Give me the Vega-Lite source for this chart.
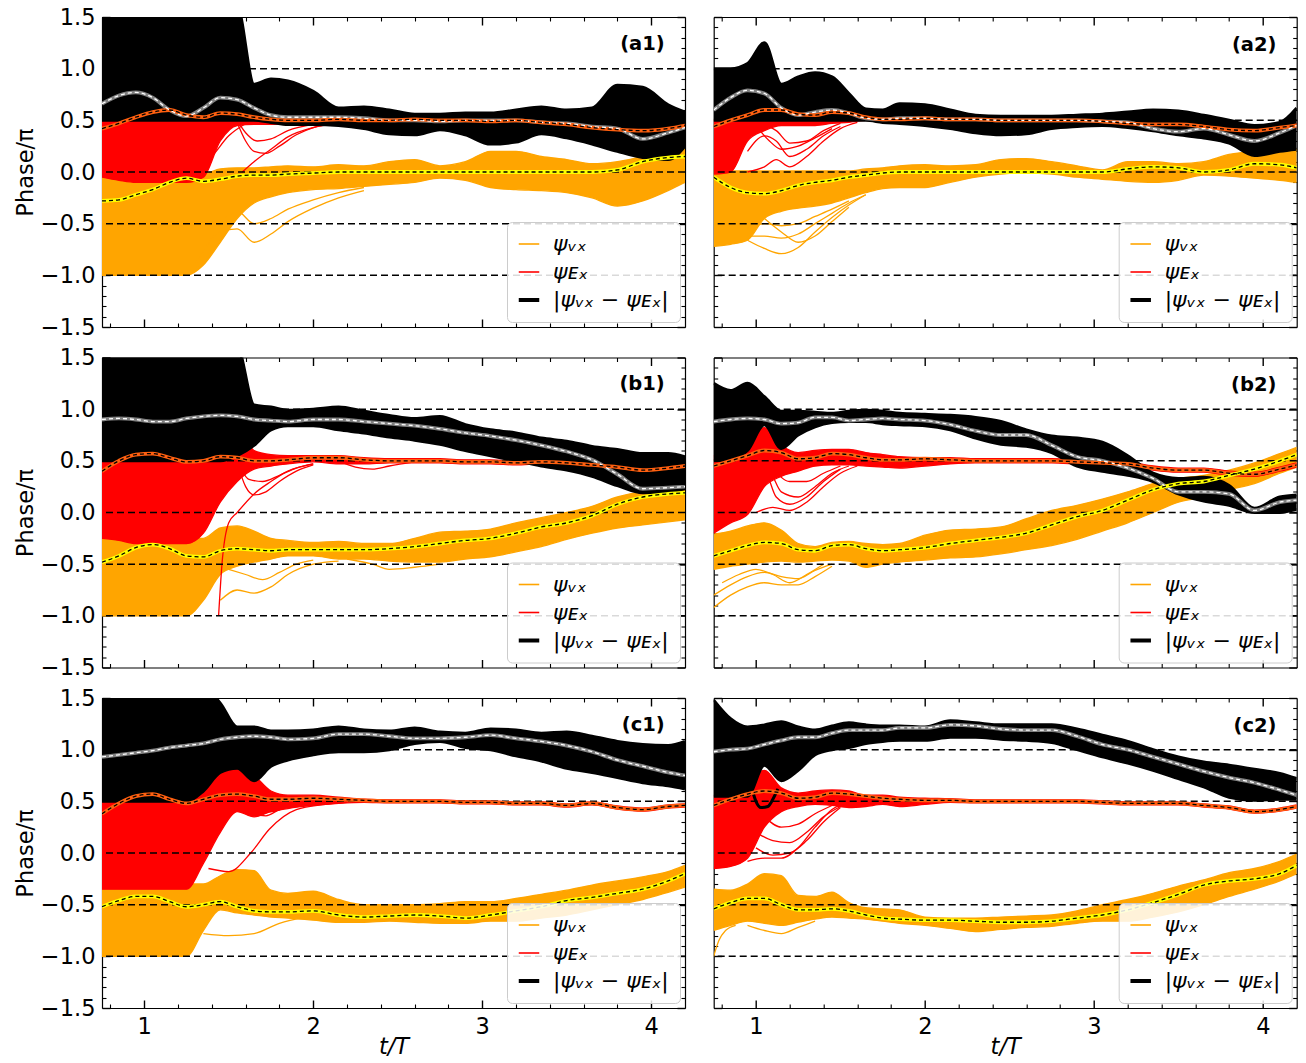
{
"$schema":"https://vega.github.io/schema/vega-lite/v6.json",
"padding":{"left":14,"top":6,"right":5,"bottom":2},
"datasets":{
"hl":[{"y":1},{"y":0.5},{"y":0},{"y":-0.5},{"y":-1}],
"bands":[
{"p":"a1","s":"d","t":0.75,"lo":0.5,"hi":1.6,"m":0.66},{"p":"a1","s":"d","t":0.85,"lo":0.5,"hi":1.6,"m":0.74},{"p":"a1","s":"d","t":0.95,"lo":0.5,"hi":1.6,"m":0.77},{"p":"a1","s":"d","t":1.05,"lo":0.5,"hi":1.6,"m":0.72},{"p":"a1","s":"d","t":1.15,"lo":0.5,"hi":1.6,"m":0.6},{"p":"a1","s":"d","t":1.25,"lo":0.5,"hi":1.6,"m":0.54},{"p":"a1","s":"d","t":1.35,"lo":0.5,"hi":1.6,"m":0.62},{"p":"a1","s":"d","t":1.45,"lo":0.5,"hi":1.6,"m":0.72},{"p":"a1","s":"d","t":1.55,"lo":0.5,"hi":1.6,"m":0.7},{"p":"a1","s":"d","t":1.65,"lo":0.5,"hi":0.85,"m":0.62},{"p":"a1","s":"d","t":1.75,"lo":0.48,"hi":0.9,"m":0.55},{"p":"a1","s":"d","t":1.85,"lo":0.46,"hi":0.88,"m":0.53},{"p":"a1","s":"d","t":2.0,"lo":0.46,"hi":0.78,"m":0.53},{"p":"a1","s":"d","t":2.15,"lo":0.45,"hi":0.62,"m":0.53},{"p":"a1","s":"d","t":2.3,"lo":0.42,"hi":0.63,"m":0.52},{"p":"a1","s":"d","t":2.45,"lo":0.37,"hi":0.6,"m":0.5},{"p":"a1","s":"d","t":2.6,"lo":0.36,"hi":0.56,"m":0.5},{"p":"a1","s":"d","t":2.75,"lo":0.41,"hi":0.56,"m":0.49},{"p":"a1","s":"d","t":2.9,"lo":0.36,"hi":0.57,"m":0.5},{"p":"a1","s":"d","t":3.05,"lo":0.27,"hi":0.57,"m":0.5},{"p":"a1","s":"d","t":3.2,"lo":0.29,"hi":0.6,"m":0.5},{"p":"a1","s":"d","t":3.35,"lo":0.37,"hi":0.63,"m":0.48},{"p":"a1","s":"d","t":3.5,"lo":0.33,"hi":0.6,"m":0.47},{"p":"a1","s":"d","t":3.65,"lo":0.27,"hi":0.62,"m":0.44},{"p":"a1","s":"d","t":3.8,"lo":0.2,"hi":0.84,"m":0.42},{"p":"a1","s":"d","t":3.95,"lo":0.14,"hi":0.82,"m":0.32},{"p":"a1","s":"d","t":4.1,"lo":0.12,"hi":0.65,"m":0.38},{"p":"a1","s":"d","t":4.2,"lo":0.25,"hi":0.58,"m":0.43},
{"p":"a1","s":"E","t":0.75,"lo":-0.05,"hi":0.75,"m":0.42},{"p":"a1","s":"E","t":0.85,"lo":-0.08,"hi":0.75,"m":0.47},{"p":"a1","s":"E","t":0.95,"lo":-0.1,"hi":0.75,"m":0.53},{"p":"a1","s":"E","t":1.05,"lo":-0.1,"hi":0.75,"m":0.58},{"p":"a1","s":"E","t":1.15,"lo":-0.1,"hi":0.75,"m":0.6},{"p":"a1","s":"E","t":1.25,"lo":-0.1,"hi":0.75,"m":0.55},{"p":"a1","s":"E","t":1.35,"lo":-0.05,"hi":0.75,"m":0.53},{"p":"a1","s":"E","t":1.45,"lo":0.3,"hi":0.75,"m":0.57},{"p":"a1","s":"E","t":1.55,"lo":0.45,"hi":0.65,"m":0.56},{"p":"a1","s":"E","t":1.65,"lo":0.46,"hi":0.58,"m":0.53},{"p":"a1","s":"E","t":1.75,"lo":0.46,"hi":0.56,"m":0.51},{"p":"a1","s":"E","t":1.85,"lo":0.47,"hi":0.55,"m":0.5},{"p":"a1","s":"E","t":2.0,"lo":0.47,"hi":0.54,"m":0.5},{"p":"a1","s":"E","t":2.15,"lo":0.47,"hi":0.53,"m":0.51},{"p":"a1","s":"E","t":2.3,"lo":0.48,"hi":0.53,"m":0.5},{"p":"a1","s":"E","t":2.45,"lo":0.48,"hi":0.525,"m":0.5},{"p":"a1","s":"E","t":2.6,"lo":0.485,"hi":0.535,"m":0.51},{"p":"a1","s":"E","t":2.75,"lo":0.475,"hi":0.525,"m":0.5},{"p":"a1","s":"E","t":2.9,"lo":0.475,"hi":0.525,"m":0.5},{"p":"a1","s":"E","t":3.05,"lo":0.465,"hi":0.515,"m":0.49},{"p":"a1","s":"E","t":3.2,"lo":0.475,"hi":0.525,"m":0.5},{"p":"a1","s":"E","t":3.35,"lo":0.455,"hi":0.505,"m":0.48},{"p":"a1","s":"E","t":3.5,"lo":0.435,"hi":0.485,"m":0.46},{"p":"a1","s":"E","t":3.65,"lo":0.405,"hi":0.455,"m":0.43},{"p":"a1","s":"E","t":3.8,"lo":0.385,"hi":0.435,"m":0.41},{"p":"a1","s":"E","t":3.95,"lo":0.375,"hi":0.425,"m":0.4},{"p":"a1","s":"E","t":4.1,"lo":0.395,"hi":0.445,"m":0.42},{"p":"a1","s":"E","t":4.2,"lo":0.425,"hi":0.475,"m":0.45},
{"p":"a1","s":"v","t":0.75,"lo":-1.0,"hi":-0.02,"m":-0.28},{"p":"a1","s":"v","t":0.85,"lo":-1.0,"hi":-0.02,"m":-0.27},{"p":"a1","s":"v","t":0.95,"lo":-1.0,"hi":-0.02,"m":-0.22},{"p":"a1","s":"v","t":1.05,"lo":-1.0,"hi":-0.02,"m":-0.17},{"p":"a1","s":"v","t":1.15,"lo":-1.0,"hi":-0.02,"m":-0.1},{"p":"a1","s":"v","t":1.25,"lo":-1.0,"hi":-0.02,"m":-0.06},{"p":"a1","s":"v","t":1.35,"lo":-0.9,"hi":-0.02,"m":-0.09},{"p":"a1","s":"v","t":1.45,"lo":-0.68,"hi":0.03,"m":-0.07},{"p":"a1","s":"v","t":1.55,"lo":-0.45,"hi":0.04,"m":-0.04},{"p":"a1","s":"v","t":1.65,"lo":-0.3,"hi":0.04,"m":-0.03},{"p":"a1","s":"v","t":1.75,"lo":-0.24,"hi":0.05,"m":-0.03},{"p":"a1","s":"v","t":1.85,"lo":-0.2,"hi":0.06,"m":-0.02},{"p":"a1","s":"v","t":2.0,"lo":-0.17,"hi":0.05,"m":-0.01},{"p":"a1","s":"v","t":2.15,"lo":-0.16,"hi":0.07,"m":0.0},{"p":"a1","s":"v","t":2.3,"lo":-0.14,"hi":0.06,"m":0.0},{"p":"a1","s":"v","t":2.45,"lo":-0.12,"hi":0.1,"m":0.0},{"p":"a1","s":"v","t":2.6,"lo":-0.1,"hi":0.12,"m":0.0},{"p":"a1","s":"v","t":2.75,"lo":-0.06,"hi":0.06,"m":0.0},{"p":"a1","s":"v","t":2.9,"lo":-0.08,"hi":0.1,"m":0.0},{"p":"a1","s":"v","t":3.05,"lo":-0.15,"hi":0.2,"m":0.0},{"p":"a1","s":"v","t":3.2,"lo":-0.17,"hi":0.2,"m":0.0},{"p":"a1","s":"v","t":3.35,"lo":-0.18,"hi":0.15,"m":0.0},{"p":"a1","s":"v","t":3.5,"lo":-0.2,"hi":0.12,"m":0.0},{"p":"a1","s":"v","t":3.65,"lo":-0.25,"hi":0.08,"m":0.0},{"p":"a1","s":"v","t":3.8,"lo":-0.33,"hi":0.1,"m":0.02},{"p":"a1","s":"v","t":3.95,"lo":-0.28,"hi":0.15,"m":0.1},{"p":"a1","s":"v","t":4.1,"lo":-0.18,"hi":0.2,"m":0.14},{"p":"a1","s":"v","t":4.2,"lo":-0.1,"hi":0.3,"m":0.15},
{"p":"a2","s":"d","t":0.75,"lo":0.5,"hi":1.0,"m":0.6},{"p":"a2","s":"d","t":0.85,"lo":0.5,"hi":1.0,"m":0.72},{"p":"a2","s":"d","t":0.95,"lo":0.5,"hi":1.05,"m":0.79},{"p":"a2","s":"d","t":1.05,"lo":0.5,"hi":1.25,"m":0.76},{"p":"a2","s":"d","t":1.15,"lo":0.5,"hi":0.85,"m":0.62},{"p":"a2","s":"d","t":1.25,"lo":0.5,"hi":0.92,"m":0.55},{"p":"a2","s":"d","t":1.35,"lo":0.5,"hi":0.96,"m":0.58},{"p":"a2","s":"d","t":1.45,"lo":0.5,"hi":0.92,"m":0.6},{"p":"a2","s":"d","t":1.55,"lo":0.5,"hi":0.76,"m":0.57},{"p":"a2","s":"d","t":1.65,"lo":0.5,"hi":0.61,"m":0.52},{"p":"a2","s":"d","t":1.75,"lo":0.48,"hi":0.6,"m":0.51},{"p":"a2","s":"d","t":1.85,"lo":0.47,"hi":0.66,"m":0.52},{"p":"a2","s":"d","t":2.0,"lo":0.45,"hi":0.65,"m":0.52},{"p":"a2","s":"d","t":2.15,"lo":0.42,"hi":0.6,"m":0.51},{"p":"a2","s":"d","t":2.3,"lo":0.38,"hi":0.55,"m":0.51},{"p":"a2","s":"d","t":2.45,"lo":0.36,"hi":0.54,"m":0.5},{"p":"a2","s":"d","t":2.6,"lo":0.37,"hi":0.54,"m":0.5},{"p":"a2","s":"d","t":2.75,"lo":0.42,"hi":0.54,"m":0.5},{"p":"a2","s":"d","t":2.9,"lo":0.44,"hi":0.55,"m":0.5},{"p":"a2","s":"d","t":3.05,"lo":0.45,"hi":0.56,"m":0.49},{"p":"a2","s":"d","t":3.2,"lo":0.43,"hi":0.58,"m":0.48},{"p":"a2","s":"d","t":3.35,"lo":0.4,"hi":0.6,"m":0.42},{"p":"a2","s":"d","t":3.5,"lo":0.36,"hi":0.59,"m":0.39},{"p":"a2","s":"d","t":3.65,"lo":0.33,"hi":0.55,"m":0.42},{"p":"a2","s":"d","t":3.8,"lo":0.28,"hi":0.5,"m":0.36},{"p":"a2","s":"d","t":3.95,"lo":0.16,"hi":0.45,"m":0.3},{"p":"a2","s":"d","t":4.1,"lo":0.2,"hi":0.48,"m":0.38},{"p":"a2","s":"d","t":4.2,"lo":0.22,"hi":0.62,"m":0.45},
{"p":"a2","s":"E","t":0.75,"lo":-0.02,"hi":0.5,"m":0.44},{"p":"a2","s":"E","t":0.85,"lo":0.0,"hi":0.55,"m":0.5},{"p":"a2","s":"E","t":0.95,"lo":0.3,"hi":0.62,"m":0.55},{"p":"a2","s":"E","t":1.05,"lo":0.4,"hi":0.68,"m":0.6},{"p":"a2","s":"E","t":1.15,"lo":0.45,"hi":0.7,"m":0.6},{"p":"a2","s":"E","t":1.25,"lo":0.45,"hi":0.63,"m":0.56},{"p":"a2","s":"E","t":1.35,"lo":0.45,"hi":0.62,"m":0.55},{"p":"a2","s":"E","t":1.45,"lo":0.47,"hi":0.6,"m":0.58},{"p":"a2","s":"E","t":1.55,"lo":0.48,"hi":0.58,"m":0.57},{"p":"a2","s":"E","t":1.65,"lo":0.5,"hi":0.55,"m":0.53},{"p":"a2","s":"E","t":1.75,"lo":0.49,"hi":0.53,"m":0.51},{"p":"a2","s":"E","t":1.85,"lo":0.49,"hi":0.53,"m":0.51},{"p":"a2","s":"E","t":2.0,"lo":0.5,"hi":0.535,"m":0.52},{"p":"a2","s":"E","t":2.15,"lo":0.49,"hi":0.53,"m":0.51},{"p":"a2","s":"E","t":2.3,"lo":0.49,"hi":0.53,"m":0.51},{"p":"a2","s":"E","t":2.45,"lo":0.48,"hi":0.52,"m":0.5},{"p":"a2","s":"E","t":2.6,"lo":0.48,"hi":0.52,"m":0.5},{"p":"a2","s":"E","t":2.75,"lo":0.48,"hi":0.52,"m":0.5},{"p":"a2","s":"E","t":2.9,"lo":0.48,"hi":0.52,"m":0.5},{"p":"a2","s":"E","t":3.05,"lo":0.47,"hi":0.51,"m":0.49},{"p":"a2","s":"E","t":3.2,"lo":0.45,"hi":0.49,"m":0.47},{"p":"a2","s":"E","t":3.35,"lo":0.44,"hi":0.48,"m":0.46},{"p":"a2","s":"E","t":3.5,"lo":0.44,"hi":0.48,"m":0.46},{"p":"a2","s":"E","t":3.65,"lo":0.42,"hi":0.46,"m":0.44},{"p":"a2","s":"E","t":3.8,"lo":0.39,"hi":0.43,"m":0.41},{"p":"a2","s":"E","t":3.95,"lo":0.38,"hi":0.42,"m":0.4},{"p":"a2","s":"E","t":4.1,"lo":0.41,"hi":0.45,"m":0.43},{"p":"a2","s":"E","t":4.2,"lo":0.43,"hi":0.47,"m":0.45},
{"p":"a2","s":"v","t":0.75,"lo":-0.72,"hi":0.01,"m":-0.05},{"p":"a2","s":"v","t":0.85,"lo":-0.7,"hi":0.01,"m":-0.15},{"p":"a2","s":"v","t":0.95,"lo":-0.66,"hi":0.01,"m":-0.2},{"p":"a2","s":"v","t":1.05,"lo":-0.45,"hi":0.01,"m":-0.21},{"p":"a2","s":"v","t":1.15,"lo":-0.38,"hi":0.01,"m":-0.18},{"p":"a2","s":"v","t":1.25,"lo":-0.35,"hi":0.01,"m":-0.13},{"p":"a2","s":"v","t":1.35,"lo":-0.33,"hi":0.01,"m":-0.1},{"p":"a2","s":"v","t":1.45,"lo":-0.3,"hi":0.01,"m":-0.08},{"p":"a2","s":"v","t":1.55,"lo":-0.25,"hi":0.01,"m":-0.05},{"p":"a2","s":"v","t":1.65,"lo":-0.2,"hi":0.03,"m":-0.03},{"p":"a2","s":"v","t":1.75,"lo":-0.16,"hi":0.04,"m":-0.01},{"p":"a2","s":"v","t":1.85,"lo":-0.15,"hi":0.06,"m":0.0},{"p":"a2","s":"v","t":2.0,"lo":-0.15,"hi":0.07,"m":0.0},{"p":"a2","s":"v","t":2.15,"lo":-0.1,"hi":0.06,"m":0.0},{"p":"a2","s":"v","t":2.3,"lo":-0.05,"hi":0.07,"m":0.0},{"p":"a2","s":"v","t":2.45,"lo":-0.02,"hi":0.12,"m":0.0},{"p":"a2","s":"v","t":2.6,"lo":-0.01,"hi":0.13,"m":0.0},{"p":"a2","s":"v","t":2.75,"lo":-0.02,"hi":0.1,"m":0.0},{"p":"a2","s":"v","t":2.9,"lo":-0.05,"hi":0.06,"m":0.0},{"p":"a2","s":"v","t":3.05,"lo":-0.07,"hi":0.02,"m":0.0},{"p":"a2","s":"v","t":3.2,"lo":-0.09,"hi":0.1,"m":0.03},{"p":"a2","s":"v","t":3.35,"lo":-0.1,"hi":0.1,"m":0.05},{"p":"a2","s":"v","t":3.5,"lo":-0.08,"hi":0.08,"m":0.04},{"p":"a2","s":"v","t":3.65,"lo":-0.03,"hi":0.1,"m":0.0},{"p":"a2","s":"v","t":3.8,"lo":-0.04,"hi":0.17,"m":0.02},{"p":"a2","s":"v","t":3.95,"lo":-0.06,"hi":0.2,"m":0.08},{"p":"a2","s":"v","t":4.1,"lo":-0.08,"hi":0.21,"m":0.07},{"p":"a2","s":"v","t":4.2,"lo":-0.1,"hi":0.22,"m":0.04},
{"p":"b1","s":"d","t":0.75,"lo":0.5,"hi":1.6,"m":0.9},{"p":"b1","s":"d","t":0.85,"lo":0.5,"hi":1.6,"m":0.91},{"p":"b1","s":"d","t":0.95,"lo":0.5,"hi":1.6,"m":0.9},{"p":"b1","s":"d","t":1.05,"lo":0.5,"hi":1.6,"m":0.88},{"p":"b1","s":"d","t":1.15,"lo":0.5,"hi":1.6,"m":0.88},{"p":"b1","s":"d","t":1.25,"lo":0.5,"hi":1.6,"m":0.91},{"p":"b1","s":"d","t":1.35,"lo":0.5,"hi":1.6,"m":0.93},{"p":"b1","s":"d","t":1.45,"lo":0.5,"hi":1.6,"m":0.94},{"p":"b1","s":"d","t":1.55,"lo":0.55,"hi":1.6,"m":0.93},{"p":"b1","s":"d","t":1.65,"lo":0.65,"hi":1.04,"m":0.9},{"p":"b1","s":"d","t":1.75,"lo":0.8,"hi":1.02,"m":0.89},{"p":"b1","s":"d","t":1.85,"lo":0.84,"hi":0.99,"m":0.88},{"p":"b1","s":"d","t":2.0,"lo":0.84,"hi":1.0,"m":0.9},{"p":"b1","s":"d","t":2.15,"lo":0.8,"hi":1.02,"m":0.9},{"p":"b1","s":"d","t":2.3,"lo":0.77,"hi":0.98,"m":0.88},{"p":"b1","s":"d","t":2.45,"lo":0.73,"hi":0.94,"m":0.86},{"p":"b1","s":"d","t":2.6,"lo":0.7,"hi":0.91,"m":0.84},{"p":"b1","s":"d","t":2.75,"lo":0.66,"hi":0.93,"m":0.81},{"p":"b1","s":"d","t":2.9,"lo":0.6,"hi":0.85,"m":0.77},{"p":"b1","s":"d","t":3.05,"lo":0.55,"hi":0.8,"m":0.74},{"p":"b1","s":"d","t":3.2,"lo":0.5,"hi":0.77,"m":0.7},{"p":"b1","s":"d","t":3.35,"lo":0.45,"hi":0.72,"m":0.65},{"p":"b1","s":"d","t":3.5,"lo":0.41,"hi":0.69,"m":0.59},{"p":"b1","s":"d","t":3.65,"lo":0.35,"hi":0.64,"m":0.51},{"p":"b1","s":"d","t":3.8,"lo":0.26,"hi":0.61,"m":0.37},{"p":"b1","s":"d","t":3.95,"lo":0.19,"hi":0.57,"m":0.23},{"p":"b1","s":"d","t":4.1,"lo":0.2,"hi":0.57,"m":0.24},{"p":"b1","s":"d","t":4.2,"lo":0.23,"hi":0.54,"m":0.25},
{"p":"b1","s":"E","t":0.75,"lo":-0.25,"hi":0.8,"m":0.4},{"p":"b1","s":"E","t":0.85,"lo":-0.27,"hi":0.8,"m":0.5},{"p":"b1","s":"E","t":0.95,"lo":-0.3,"hi":0.8,"m":0.56},{"p":"b1","s":"E","t":1.05,"lo":-0.3,"hi":0.8,"m":0.57},{"p":"b1","s":"E","t":1.15,"lo":-0.3,"hi":0.8,"m":0.53},{"p":"b1","s":"E","t":1.25,"lo":-0.3,"hi":0.8,"m":0.49},{"p":"b1","s":"E","t":1.35,"lo":-0.2,"hi":0.83,"m":0.5},{"p":"b1","s":"E","t":1.45,"lo":0.1,"hi":0.83,"m":0.54},{"p":"b1","s":"E","t":1.55,"lo":0.3,"hi":0.83,"m":0.53},{"p":"b1","s":"E","t":1.65,"lo":0.42,"hi":0.6,"m":0.5},{"p":"b1","s":"E","t":1.75,"lo":0.45,"hi":0.56,"m":0.5},{"p":"b1","s":"E","t":1.85,"lo":0.47,"hi":0.55,"m":0.51},{"p":"b1","s":"E","t":2.0,"lo":0.49,"hi":0.55,"m":0.53},{"p":"b1","s":"E","t":2.15,"lo":0.47,"hi":0.55,"m":0.53},{"p":"b1","s":"E","t":2.3,"lo":0.47,"hi":0.53,"m":0.51},{"p":"b1","s":"E","t":2.45,"lo":0.48,"hi":0.52,"m":0.5},{"p":"b1","s":"E","t":2.6,"lo":0.48,"hi":0.52,"m":0.5},{"p":"b1","s":"E","t":2.75,"lo":0.48,"hi":0.52,"m":0.5},{"p":"b1","s":"E","t":2.9,"lo":0.47,"hi":0.51,"m":0.49},{"p":"b1","s":"E","t":3.05,"lo":0.47,"hi":0.51,"m":0.49},{"p":"b1","s":"E","t":3.2,"lo":0.46,"hi":0.5,"m":0.48},{"p":"b1","s":"E","t":3.35,"lo":0.47,"hi":0.51,"m":0.49},{"p":"b1","s":"E","t":3.5,"lo":0.46,"hi":0.5,"m":0.48},{"p":"b1","s":"E","t":3.65,"lo":0.44,"hi":0.48,"m":0.46},{"p":"b1","s":"E","t":3.8,"lo":0.42,"hi":0.46,"m":0.44},{"p":"b1","s":"E","t":3.95,"lo":0.39,"hi":0.43,"m":0.41},{"p":"b1","s":"E","t":4.1,"lo":0.41,"hi":0.45,"m":0.43},{"p":"b1","s":"E","t":4.2,"lo":0.43,"hi":0.47,"m":0.45},
{"p":"b1","s":"v","t":0.75,"lo":-1.0,"hi":-0.25,"m":-0.48},{"p":"b1","s":"v","t":0.85,"lo":-1.0,"hi":-0.25,"m":-0.42},{"p":"b1","s":"v","t":0.95,"lo":-1.0,"hi":-0.25,"m":-0.34},{"p":"b1","s":"v","t":1.05,"lo":-1.0,"hi":-0.25,"m":-0.31},{"p":"b1","s":"v","t":1.15,"lo":-1.0,"hi":-0.25,"m":-0.35},{"p":"b1","s":"v","t":1.25,"lo":-1.0,"hi":-0.25,"m":-0.42},{"p":"b1","s":"v","t":1.35,"lo":-0.85,"hi":-0.25,"m":-0.43},{"p":"b1","s":"v","t":1.45,"lo":-0.6,"hi":-0.15,"m":-0.37},{"p":"b1","s":"v","t":1.55,"lo":-0.52,"hi":-0.13,"m":-0.35},{"p":"b1","s":"v","t":1.65,"lo":-0.48,"hi":-0.18,"m":-0.36},{"p":"b1","s":"v","t":1.75,"lo":-0.45,"hi":-0.25,"m":-0.37},{"p":"b1","s":"v","t":1.85,"lo":-0.42,"hi":-0.27,"m":-0.36},{"p":"b1","s":"v","t":2.0,"lo":-0.42,"hi":-0.29,"m":-0.36},{"p":"b1","s":"v","t":2.15,"lo":-0.45,"hi":-0.28,"m":-0.36},{"p":"b1","s":"v","t":2.3,"lo":-0.45,"hi":-0.3,"m":-0.36},{"p":"b1","s":"v","t":2.45,"lo":-0.47,"hi":-0.3,"m":-0.35},{"p":"b1","s":"v","t":2.6,"lo":-0.48,"hi":-0.25,"m":-0.33},{"p":"b1","s":"v","t":2.75,"lo":-0.48,"hi":-0.19,"m":-0.3},{"p":"b1","s":"v","t":2.9,"lo":-0.45,"hi":-0.18,"m":-0.27},{"p":"b1","s":"v","t":3.05,"lo":-0.43,"hi":-0.16,"m":-0.25},{"p":"b1","s":"v","t":3.2,"lo":-0.38,"hi":-0.1,"m":-0.2},{"p":"b1","s":"v","t":3.35,"lo":-0.33,"hi":-0.05,"m":-0.14},{"p":"b1","s":"v","t":3.5,"lo":-0.26,"hi":0.0,"m":-0.1},{"p":"b1","s":"v","t":3.65,"lo":-0.2,"hi":0.06,"m":-0.03},{"p":"b1","s":"v","t":3.8,"lo":-0.15,"hi":0.15,"m":0.08},{"p":"b1","s":"v","t":3.95,"lo":-0.12,"hi":0.2,"m":0.15},{"p":"b1","s":"v","t":4.1,"lo":-0.09,"hi":0.21,"m":0.18},{"p":"b1","s":"v","t":4.2,"lo":-0.07,"hi":0.22,"m":0.19},
{"p":"b2","s":"d","t":0.75,"lo":0.5,"hi":1.25,"m":0.88},{"p":"b2","s":"d","t":0.85,"lo":0.52,"hi":1.18,"m":0.9},{"p":"b2","s":"d","t":0.95,"lo":0.6,"hi":1.25,"m":0.91},{"p":"b2","s":"d","t":1.05,"lo":0.85,"hi":1.12,"m":0.9},{"p":"b2","s":"d","t":1.15,"lo":0.62,"hi":0.98,"m":0.86},{"p":"b2","s":"d","t":1.25,"lo":0.75,"hi":0.98,"m":0.87},{"p":"b2","s":"d","t":1.35,"lo":0.83,"hi":0.97,"m":0.92},{"p":"b2","s":"d","t":1.45,"lo":0.87,"hi":0.96,"m":0.92},{"p":"b2","s":"d","t":1.55,"lo":0.88,"hi":0.98,"m":0.89},{"p":"b2","s":"d","t":1.65,"lo":0.88,"hi":0.99,"m":0.9},{"p":"b2","s":"d","t":1.75,"lo":0.86,"hi":0.98,"m":0.91},{"p":"b2","s":"d","t":1.85,"lo":0.85,"hi":0.96,"m":0.9},{"p":"b2","s":"d","t":2.0,"lo":0.84,"hi":0.95,"m":0.89},{"p":"b2","s":"d","t":2.15,"lo":0.8,"hi":0.94,"m":0.85},{"p":"b2","s":"d","t":2.3,"lo":0.72,"hi":0.92,"m":0.79},{"p":"b2","s":"d","t":2.45,"lo":0.66,"hi":0.88,"m":0.75},{"p":"b2","s":"d","t":2.6,"lo":0.64,"hi":0.8,"m":0.75},{"p":"b2","s":"d","t":2.75,"lo":0.58,"hi":0.74,"m":0.65},{"p":"b2","s":"d","t":2.9,"lo":0.45,"hi":0.72,"m":0.54},{"p":"b2","s":"d","t":3.05,"lo":0.4,"hi":0.68,"m":0.5},{"p":"b2","s":"d","t":3.2,"lo":0.36,"hi":0.55,"m":0.43},{"p":"b2","s":"d","t":3.35,"lo":0.3,"hi":0.38,"m":0.33},{"p":"b2","s":"d","t":3.5,"lo":0.18,"hi":0.33,"m":0.2},{"p":"b2","s":"d","t":3.65,"lo":0.11,"hi":0.34,"m":0.2},{"p":"b2","s":"d","t":3.8,"lo":0.07,"hi":0.26,"m":0.18},{"p":"b2","s":"d","t":3.95,"lo":0.0,"hi":0.04,"m":0.02},{"p":"b2","s":"d","t":4.1,"lo":0.0,"hi":0.15,"m":0.1},{"p":"b2","s":"d","t":4.2,"lo":0.03,"hi":0.17,"m":0.12},
{"p":"b2","s":"E","t":0.75,"lo":-0.2,"hi":0.55,"m":0.45},{"p":"b2","s":"E","t":0.85,"lo":-0.1,"hi":0.6,"m":0.5},{"p":"b2","s":"E","t":0.95,"lo":-0.02,"hi":0.75,"m":0.55},{"p":"b2","s":"E","t":1.05,"lo":0.25,"hi":0.82,"m":0.6},{"p":"b2","s":"E","t":1.15,"lo":0.35,"hi":0.65,"m":0.58},{"p":"b2","s":"E","t":1.25,"lo":0.4,"hi":0.58,"m":0.52},{"p":"b2","s":"E","t":1.35,"lo":0.45,"hi":0.6,"m":0.53},{"p":"b2","s":"E","t":1.45,"lo":0.46,"hi":0.61,"m":0.57},{"p":"b2","s":"E","t":1.55,"lo":0.46,"hi":0.61,"m":0.56},{"p":"b2","s":"E","t":1.65,"lo":0.45,"hi":0.58,"m":0.53},{"p":"b2","s":"E","t":1.75,"lo":0.44,"hi":0.56,"m":0.51},{"p":"b2","s":"E","t":1.85,"lo":0.43,"hi":0.54,"m":0.51},{"p":"b2","s":"E","t":2.0,"lo":0.45,"hi":0.53,"m":0.52},{"p":"b2","s":"E","t":2.15,"lo":0.47,"hi":0.53,"m":0.51},{"p":"b2","s":"E","t":2.3,"lo":0.48,"hi":0.52,"m":0.5},{"p":"b2","s":"E","t":2.45,"lo":0.48,"hi":0.52,"m":0.5},{"p":"b2","s":"E","t":2.6,"lo":0.48,"hi":0.52,"m":0.5},{"p":"b2","s":"E","t":2.75,"lo":0.48,"hi":0.52,"m":0.5},{"p":"b2","s":"E","t":2.9,"lo":0.47,"hi":0.51,"m":0.49},{"p":"b2","s":"E","t":3.05,"lo":0.46,"hi":0.5,"m":0.48},{"p":"b2","s":"E","t":3.2,"lo":0.45,"hi":0.49,"m":0.47},{"p":"b2","s":"E","t":3.35,"lo":0.41,"hi":0.45,"m":0.43},{"p":"b2","s":"E","t":3.5,"lo":0.39,"hi":0.43,"m":0.41},{"p":"b2","s":"E","t":3.65,"lo":0.39,"hi":0.43,"m":0.41},{"p":"b2","s":"E","t":3.8,"lo":0.36,"hi":0.4,"m":0.38},{"p":"b2","s":"E","t":3.95,"lo":0.35,"hi":0.39,"m":0.37},{"p":"b2","s":"E","t":4.1,"lo":0.4,"hi":0.44,"m":0.42},{"p":"b2","s":"E","t":4.2,"lo":0.44,"hi":0.48,"m":0.46},
{"p":"b2","s":"v","t":0.75,"lo":-0.55,"hi":-0.21,"m":-0.42},{"p":"b2","s":"v","t":0.85,"lo":-0.52,"hi":-0.18,"m":-0.37},{"p":"b2","s":"v","t":0.95,"lo":-0.5,"hi":-0.13,"m":-0.32},{"p":"b2","s":"v","t":1.05,"lo":-0.48,"hi":-0.1,"m":-0.29},{"p":"b2","s":"v","t":1.15,"lo":-0.47,"hi":-0.17,"m":-0.3},{"p":"b2","s":"v","t":1.25,"lo":-0.48,"hi":-0.3,"m":-0.36},{"p":"b2","s":"v","t":1.35,"lo":-0.47,"hi":-0.33,"m":-0.37},{"p":"b2","s":"v","t":1.45,"lo":-0.46,"hi":-0.29,"m":-0.32},{"p":"b2","s":"v","t":1.55,"lo":-0.47,"hi":-0.28,"m":-0.31},{"p":"b2","s":"v","t":1.65,"lo":-0.53,"hi":-0.3,"m":-0.35},{"p":"b2","s":"v","t":1.75,"lo":-0.5,"hi":-0.31,"m":-0.37},{"p":"b2","s":"v","t":1.85,"lo":-0.48,"hi":-0.3,"m":-0.36},{"p":"b2","s":"v","t":2.0,"lo":-0.46,"hi":-0.22,"m":-0.34},{"p":"b2","s":"v","t":2.15,"lo":-0.44,"hi":-0.17,"m":-0.3},{"p":"b2","s":"v","t":2.3,"lo":-0.43,"hi":-0.16,"m":-0.27},{"p":"b2","s":"v","t":2.45,"lo":-0.4,"hi":-0.14,"m":-0.24},{"p":"b2","s":"v","t":2.6,"lo":-0.36,"hi":-0.06,"m":-0.2},{"p":"b2","s":"v","t":2.75,"lo":-0.32,"hi":0.02,"m":-0.12},{"p":"b2","s":"v","t":2.9,"lo":-0.26,"hi":0.07,"m":-0.04},{"p":"b2","s":"v","t":3.05,"lo":-0.18,"hi":0.13,"m":0.02},{"p":"b2","s":"v","t":3.2,"lo":-0.1,"hi":0.2,"m":0.12},{"p":"b2","s":"v","t":3.35,"lo":0.0,"hi":0.28,"m":0.22},{"p":"b2","s":"v","t":3.5,"lo":0.1,"hi":0.33,"m":0.28},{"p":"b2","s":"v","t":3.65,"lo":0.15,"hi":0.36,"m":0.3},{"p":"b2","s":"v","t":3.8,"lo":0.22,"hi":0.41,"m":0.36},{"p":"b2","s":"v","t":3.95,"lo":0.28,"hi":0.48,"m":0.42},{"p":"b2","s":"v","t":4.1,"lo":0.38,"hi":0.57,"m":0.5},{"p":"b2","s":"v","t":4.2,"lo":0.44,"hi":0.63,"m":0.56},
{"p":"c1","s":"d","t":0.75,"lo":0.5,"hi":1.6,"m":0.93},{"p":"c1","s":"d","t":0.85,"lo":0.5,"hi":1.6,"m":0.95},{"p":"c1","s":"d","t":0.95,"lo":0.5,"hi":1.6,"m":0.97},{"p":"c1","s":"d","t":1.05,"lo":0.5,"hi":1.6,"m":0.99},{"p":"c1","s":"d","t":1.15,"lo":0.5,"hi":1.6,"m":1.02},{"p":"c1","s":"d","t":1.25,"lo":0.5,"hi":1.6,"m":1.04},{"p":"c1","s":"d","t":1.35,"lo":0.6,"hi":1.6,"m":1.06},{"p":"c1","s":"d","t":1.45,"lo":0.78,"hi":1.45,"m":1.1},{"p":"c1","s":"d","t":1.55,"lo":0.82,"hi":1.22,"m":1.12},{"p":"c1","s":"d","t":1.65,"lo":0.7,"hi":1.22,"m":1.13},{"p":"c1","s":"d","t":1.75,"lo":0.84,"hi":1.18,"m":1.12},{"p":"c1","s":"d","t":1.85,"lo":0.9,"hi":1.18,"m":1.1},{"p":"c1","s":"d","t":2.0,"lo":0.95,"hi":1.19,"m":1.11},{"p":"c1","s":"d","t":2.15,"lo":0.98,"hi":1.22,"m":1.15},{"p":"c1","s":"d","t":2.3,"lo":0.98,"hi":1.19,"m":1.15},{"p":"c1","s":"d","t":2.45,"lo":1.0,"hi":1.18,"m":1.13},{"p":"c1","s":"d","t":2.6,"lo":1.06,"hi":1.21,"m":1.11},{"p":"c1","s":"d","t":2.75,"lo":1.08,"hi":1.17,"m":1.11},{"p":"c1","s":"d","t":2.9,"lo":1.02,"hi":1.16,"m":1.12},{"p":"c1","s":"d","t":3.05,"lo":1.0,"hi":1.2,"m":1.14},{"p":"c1","s":"d","t":3.2,"lo":0.94,"hi":1.19,"m":1.11},{"p":"c1","s":"d","t":3.35,"lo":0.89,"hi":1.16,"m":1.08},{"p":"c1","s":"d","t":3.5,"lo":0.82,"hi":1.17,"m":1.04},{"p":"c1","s":"d","t":3.65,"lo":0.78,"hi":1.13,"m":0.98},{"p":"c1","s":"d","t":3.8,"lo":0.73,"hi":1.08,"m":0.9},{"p":"c1","s":"d","t":3.95,"lo":0.68,"hi":1.05,"m":0.84},{"p":"c1","s":"d","t":4.1,"lo":0.65,"hi":1.04,"m":0.78},{"p":"c1","s":"d","t":4.2,"lo":0.62,"hi":1.08,"m":0.75},
{"p":"c1","s":"E","t":0.75,"lo":-0.35,"hi":0.5,"m":0.38},{"p":"c1","s":"E","t":0.85,"lo":-0.35,"hi":0.62,"m":0.48},{"p":"c1","s":"E","t":0.95,"lo":-0.35,"hi":0.72,"m":0.55},{"p":"c1","s":"E","t":1.05,"lo":-0.35,"hi":0.78,"m":0.57},{"p":"c1","s":"E","t":1.15,"lo":-0.35,"hi":0.75,"m":0.52},{"p":"c1","s":"E","t":1.25,"lo":-0.35,"hi":0.72,"m":0.48},{"p":"c1","s":"E","t":1.35,"lo":-0.1,"hi":0.78,"m":0.52},{"p":"c1","s":"E","t":1.45,"lo":0.2,"hi":0.84,"m":0.56},{"p":"c1","s":"E","t":1.55,"lo":0.4,"hi":0.84,"m":0.57},{"p":"c1","s":"E","t":1.65,"lo":0.35,"hi":0.75,"m":0.55},{"p":"c1","s":"E","t":1.75,"lo":0.4,"hi":0.6,"m":0.52},{"p":"c1","s":"E","t":1.85,"lo":0.43,"hi":0.56,"m":0.52},{"p":"c1","s":"E","t":2.0,"lo":0.46,"hi":0.56,"m":0.53},{"p":"c1","s":"E","t":2.15,"lo":0.48,"hi":0.54,"m":0.52},{"p":"c1","s":"E","t":2.3,"lo":0.49,"hi":0.52,"m":0.51},{"p":"c1","s":"E","t":2.45,"lo":0.485,"hi":0.515,"m":0.5},{"p":"c1","s":"E","t":2.6,"lo":0.485,"hi":0.515,"m":0.5},{"p":"c1","s":"E","t":2.75,"lo":0.485,"hi":0.515,"m":0.5},{"p":"c1","s":"E","t":2.9,"lo":0.475,"hi":0.505,"m":0.49},{"p":"c1","s":"E","t":3.05,"lo":0.475,"hi":0.505,"m":0.49},{"p":"c1","s":"E","t":3.2,"lo":0.465,"hi":0.495,"m":0.48},{"p":"c1","s":"E","t":3.35,"lo":0.465,"hi":0.495,"m":0.48},{"p":"c1","s":"E","t":3.5,"lo":0.445,"hi":0.475,"m":0.46},{"p":"c1","s":"E","t":3.65,"lo":0.465,"hi":0.495,"m":0.48},{"p":"c1","s":"E","t":3.8,"lo":0.425,"hi":0.455,"m":0.44},{"p":"c1","s":"E","t":3.95,"lo":0.405,"hi":0.435,"m":0.42},{"p":"c1","s":"E","t":4.1,"lo":0.435,"hi":0.465,"m":0.45},{"p":"c1","s":"E","t":4.2,"lo":0.445,"hi":0.475,"m":0.46},
{"p":"c1","s":"v","t":0.75,"lo":-1.0,"hi":-0.3,"m":-0.52},{"p":"c1","s":"v","t":0.85,"lo":-1.0,"hi":-0.3,"m":-0.46},{"p":"c1","s":"v","t":0.95,"lo":-1.0,"hi":-0.3,"m":-0.42},{"p":"c1","s":"v","t":1.05,"lo":-1.0,"hi":-0.3,"m":-0.42},{"p":"c1","s":"v","t":1.15,"lo":-1.0,"hi":-0.3,"m":-0.47},{"p":"c1","s":"v","t":1.25,"lo":-1.0,"hi":-0.3,"m":-0.52},{"p":"c1","s":"v","t":1.35,"lo":-0.75,"hi":-0.3,"m":-0.5},{"p":"c1","s":"v","t":1.45,"lo":-0.55,"hi":-0.22,"m":-0.47},{"p":"c1","s":"v","t":1.55,"lo":-0.58,"hi":-0.16,"m":-0.52},{"p":"c1","s":"v","t":1.65,"lo":-0.6,"hi":-0.17,"m":-0.56},{"p":"c1","s":"v","t":1.75,"lo":-0.62,"hi":-0.36,"m":-0.57},{"p":"c1","s":"v","t":1.85,"lo":-0.63,"hi":-0.39,"m":-0.57},{"p":"c1","s":"v","t":2.0,"lo":-0.65,"hi":-0.37,"m":-0.56},{"p":"c1","s":"v","t":2.15,"lo":-0.67,"hi":-0.45,"m":-0.6},{"p":"c1","s":"v","t":2.3,"lo":-0.67,"hi":-0.5,"m":-0.62},{"p":"c1","s":"v","t":2.45,"lo":-0.66,"hi":-0.5,"m":-0.61},{"p":"c1","s":"v","t":2.6,"lo":-0.67,"hi":-0.5,"m":-0.6},{"p":"c1","s":"v","t":2.75,"lo":-0.68,"hi":-0.49,"m":-0.61},{"p":"c1","s":"v","t":2.9,"lo":-0.68,"hi":-0.47,"m":-0.63},{"p":"c1","s":"v","t":3.05,"lo":-0.66,"hi":-0.47,"m":-0.6},{"p":"c1","s":"v","t":3.2,"lo":-0.66,"hi":-0.44,"m":-0.56},{"p":"c1","s":"v","t":3.35,"lo":-0.63,"hi":-0.4,"m":-0.52},{"p":"c1","s":"v","t":3.5,"lo":-0.6,"hi":-0.36,"m":-0.46},{"p":"c1","s":"v","t":3.65,"lo":-0.55,"hi":-0.31,"m":-0.43},{"p":"c1","s":"v","t":3.8,"lo":-0.5,"hi":-0.27,"m":-0.39},{"p":"c1","s":"v","t":3.95,"lo":-0.45,"hi":-0.23,"m":-0.35},{"p":"c1","s":"v","t":4.1,"lo":-0.38,"hi":-0.18,"m":-0.27},{"p":"c1","s":"v","t":4.2,"lo":-0.33,"hi":-0.12,"m":-0.2},
{"p":"c2","s":"d","t":0.75,"lo":0.55,"hi":1.48,"m":0.98},{"p":"c2","s":"d","t":0.85,"lo":0.55,"hi":1.3,"m":1.0},{"p":"c2","s":"d","t":0.95,"lo":0.55,"hi":1.22,"m":1.01},{"p":"c2","s":"d","t":1.05,"lo":0.85,"hi":1.24,"m":1.05},{"p":"c2","s":"d","t":1.15,"lo":0.7,"hi":1.27,"m":1.09},{"p":"c2","s":"d","t":1.25,"lo":0.8,"hi":1.22,"m":1.12},{"p":"c2","s":"d","t":1.35,"lo":0.95,"hi":1.19,"m":1.12},{"p":"c2","s":"d","t":1.45,"lo":1.0,"hi":1.23,"m":1.16},{"p":"c2","s":"d","t":1.55,"lo":1.02,"hi":1.26,"m":1.19},{"p":"c2","s":"d","t":1.65,"lo":1.06,"hi":1.24,"m":1.19},{"p":"c2","s":"d","t":1.75,"lo":1.08,"hi":1.23,"m":1.19},{"p":"c2","s":"d","t":1.85,"lo":1.09,"hi":1.23,"m":1.21},{"p":"c2","s":"d","t":2.0,"lo":1.09,"hi":1.22,"m":1.21},{"p":"c2","s":"d","t":2.15,"lo":1.12,"hi":1.28,"m":1.24},{"p":"c2","s":"d","t":2.3,"lo":1.12,"hi":1.26,"m":1.23},{"p":"c2","s":"d","t":2.45,"lo":1.1,"hi":1.24,"m":1.2},{"p":"c2","s":"d","t":2.6,"lo":1.09,"hi":1.24,"m":1.19},{"p":"c2","s":"d","t":2.75,"lo":1.07,"hi":1.24,"m":1.19},{"p":"c2","s":"d","t":2.9,"lo":1.0,"hi":1.2,"m":1.13},{"p":"c2","s":"d","t":3.05,"lo":0.93,"hi":1.14,"m":1.05},{"p":"c2","s":"d","t":3.2,"lo":0.87,"hi":1.08,"m":1.0},{"p":"c2","s":"d","t":3.35,"lo":0.8,"hi":1.0,"m":0.93},{"p":"c2","s":"d","t":3.5,"lo":0.72,"hi":0.93,"m":0.86},{"p":"c2","s":"d","t":3.65,"lo":0.64,"hi":0.88,"m":0.79},{"p":"c2","s":"d","t":3.8,"lo":0.54,"hi":0.85,"m":0.73},{"p":"c2","s":"d","t":3.95,"lo":0.51,"hi":0.81,"m":0.68},{"p":"c2","s":"d","t":4.1,"lo":0.52,"hi":0.77,"m":0.61},{"p":"c2","s":"d","t":4.2,"lo":0.52,"hi":0.72,"m":0.56},
{"p":"c2","s":"E","t":0.75,"lo":-0.15,"hi":0.55,"m":0.46},{"p":"c2","s":"E","t":0.85,"lo":-0.13,"hi":0.6,"m":0.52},{"p":"c2","s":"E","t":0.95,"lo":-0.05,"hi":0.7,"m":0.57},{"p":"c2","s":"E","t":1.05,"lo":0.25,"hi":0.8,"m":0.6},{"p":"c2","s":"E","t":1.15,"lo":0.4,"hi":0.63,"m":0.58},{"p":"c2","s":"E","t":1.25,"lo":0.45,"hi":0.58,"m":0.53},{"p":"c2","s":"E","t":1.35,"lo":0.47,"hi":0.6,"m":0.54},{"p":"c2","s":"E","t":1.45,"lo":0.46,"hi":0.61,"m":0.58},{"p":"c2","s":"E","t":1.55,"lo":0.44,"hi":0.6,"m":0.57},{"p":"c2","s":"E","t":1.65,"lo":0.45,"hi":0.56,"m":0.55},{"p":"c2","s":"E","t":1.75,"lo":0.47,"hi":0.56,"m":0.53},{"p":"c2","s":"E","t":1.85,"lo":0.45,"hi":0.54,"m":0.52},{"p":"c2","s":"E","t":2.0,"lo":0.47,"hi":0.53,"m":0.51},{"p":"c2","s":"E","t":2.15,"lo":0.49,"hi":0.525,"m":0.51},{"p":"c2","s":"E","t":2.3,"lo":0.485,"hi":0.515,"m":0.5},{"p":"c2","s":"E","t":2.45,"lo":0.485,"hi":0.515,"m":0.5},{"p":"c2","s":"E","t":2.6,"lo":0.485,"hi":0.515,"m":0.5},{"p":"c2","s":"E","t":2.75,"lo":0.485,"hi":0.515,"m":0.5},{"p":"c2","s":"E","t":2.9,"lo":0.485,"hi":0.515,"m":0.5},{"p":"c2","s":"E","t":3.05,"lo":0.475,"hi":0.505,"m":0.49},{"p":"c2","s":"E","t":3.2,"lo":0.465,"hi":0.495,"m":0.48},{"p":"c2","s":"E","t":3.35,"lo":0.465,"hi":0.495,"m":0.48},{"p":"c2","s":"E","t":3.5,"lo":0.465,"hi":0.495,"m":0.48},{"p":"c2","s":"E","t":3.65,"lo":0.445,"hi":0.475,"m":0.46},{"p":"c2","s":"E","t":3.8,"lo":0.425,"hi":0.455,"m":0.44},{"p":"c2","s":"E","t":3.95,"lo":0.385,"hi":0.415,"m":0.4},{"p":"c2","s":"E","t":4.1,"lo":0.405,"hi":0.435,"m":0.42},{"p":"c2","s":"E","t":4.2,"lo":0.435,"hi":0.465,"m":0.45},
{"p":"c2","s":"v","t":0.75,"lo":-0.75,"hi":-0.35,"m":-0.54},{"p":"c2","s":"v","t":0.85,"lo":-0.7,"hi":-0.36,"m":-0.48},{"p":"c2","s":"v","t":0.95,"lo":-0.66,"hi":-0.3,"m":-0.44},{"p":"c2","s":"v","t":1.05,"lo":-0.68,"hi":-0.2,"m":-0.44},{"p":"c2","s":"v","t":1.15,"lo":-0.7,"hi":-0.22,"m":-0.5},{"p":"c2","s":"v","t":1.25,"lo":-0.67,"hi":-0.41,"m":-0.55},{"p":"c2","s":"v","t":1.35,"lo":-0.64,"hi":-0.42,"m":-0.55},{"p":"c2","s":"v","t":1.45,"lo":-0.62,"hi":-0.38,"m":-0.54},{"p":"c2","s":"v","t":1.55,"lo":-0.63,"hi":-0.48,"m":-0.56},{"p":"c2","s":"v","t":1.65,"lo":-0.64,"hi":-0.53,"m":-0.6},{"p":"c2","s":"v","t":1.75,"lo":-0.66,"hi":-0.54,"m":-0.63},{"p":"c2","s":"v","t":1.85,"lo":-0.68,"hi":-0.55,"m":-0.64},{"p":"c2","s":"v","t":2.0,"lo":-0.7,"hi":-0.62,"m":-0.65},{"p":"c2","s":"v","t":2.15,"lo":-0.73,"hi":-0.63,"m":-0.65},{"p":"c2","s":"v","t":2.3,"lo":-0.76,"hi":-0.63,"m":-0.66},{"p":"c2","s":"v","t":2.45,"lo":-0.74,"hi":-0.62,"m":-0.67},{"p":"c2","s":"v","t":2.6,"lo":-0.72,"hi":-0.61,"m":-0.67},{"p":"c2","s":"v","t":2.75,"lo":-0.71,"hi":-0.6,"m":-0.66},{"p":"c2","s":"v","t":2.9,"lo":-0.68,"hi":-0.56,"m":-0.63},{"p":"c2","s":"v","t":3.05,"lo":-0.66,"hi":-0.5,"m":-0.6},{"p":"c2","s":"v","t":3.2,"lo":-0.66,"hi":-0.45,"m":-0.55},{"p":"c2","s":"v","t":3.35,"lo":-0.62,"hi":-0.39,"m":-0.48},{"p":"c2","s":"v","t":3.5,"lo":-0.57,"hi":-0.32,"m":-0.4},{"p":"c2","s":"v","t":3.65,"lo":-0.5,"hi":-0.26,"m":-0.31},{"p":"c2","s":"v","t":3.8,"lo":-0.42,"hi":-0.19,"m":-0.27},{"p":"c2","s":"v","t":3.95,"lo":-0.35,"hi":-0.15,"m":-0.25},{"p":"c2","s":"v","t":4.1,"lo":-0.27,"hi":-0.08,"m":-0.2},{"p":"c2","s":"v","t":4.2,"lo":-0.2,"hi":-0.01,"m":-0.12}
],
"traces":[
{"p":"a1","s":"E","k":"r1","t":1.55,"y":0.48},{"p":"a1","s":"E","k":"r1","t":1.6,"y":0.3},{"p":"a1","s":"E","k":"r1","t":1.65,"y":0.2},{"p":"a1","s":"E","k":"r1","t":1.72,"y":0.18},{"p":"a1","s":"E","k":"r1","t":1.8,"y":0.25},{"p":"a1","s":"E","k":"r1","t":1.9,"y":0.36},{"p":"a1","s":"E","k":"r1","t":2.0,"y":0.43},{"p":"a1","s":"E","k":"r1","t":2.15,"y":0.47},
{"p":"a1","s":"E","k":"r2","t":1.55,"y":0.5},{"p":"a1","s":"E","k":"r2","t":1.6,"y":0.38},{"p":"a1","s":"E","k":"r2","t":1.67,"y":0.3},{"p":"a1","s":"E","k":"r2","t":1.75,"y":0.32},{"p":"a1","s":"E","k":"r2","t":1.85,"y":0.4},{"p":"a1","s":"E","k":"r2","t":2.0,"y":0.46},
{"p":"a1","s":"E","k":"r3","t":1.58,"y":0.0},{"p":"a1","s":"E","k":"r3","t":1.65,"y":0.1},{"p":"a1","s":"E","k":"r3","t":1.75,"y":0.22},{"p":"a1","s":"E","k":"r3","t":1.85,"y":0.34},{"p":"a1","s":"E","k":"r3","t":2.0,"y":0.43},{"p":"a1","s":"E","k":"r3","t":2.15,"y":0.47},
{"p":"a1","s":"E","k":"r4","t":1.3,"y":0.0},{"p":"a1","s":"E","k":"r4","t":1.4,"y":0.15},{"p":"a1","s":"E","k":"r4","t":1.5,"y":0.35},{"p":"a1","s":"E","k":"r4","t":1.6,"y":0.47},
{"p":"a1","s":"v","k":"o1","t":1.3,"y":-0.9},{"p":"a1","s":"v","k":"o1","t":1.45,"y":-0.58},{"p":"a1","s":"v","k":"o1","t":1.55,"y":-0.55},{"p":"a1","s":"v","k":"o1","t":1.65,"y":-0.68},{"p":"a1","s":"v","k":"o1","t":1.75,"y":-0.6},{"p":"a1","s":"v","k":"o1","t":1.85,"y":-0.48},{"p":"a1","s":"v","k":"o1","t":2.0,"y":-0.35},{"p":"a1","s":"v","k":"o1","t":2.15,"y":-0.25},{"p":"a1","s":"v","k":"o1","t":2.3,"y":-0.18},
{"p":"a1","s":"v","k":"o2","t":1.45,"y":-0.5},{"p":"a1","s":"v","k":"o2","t":1.55,"y":-0.38},{"p":"a1","s":"v","k":"o2","t":1.65,"y":-0.5},{"p":"a1","s":"v","k":"o2","t":1.75,"y":-0.45},{"p":"a1","s":"v","k":"o2","t":1.85,"y":-0.36},{"p":"a1","s":"v","k":"o2","t":2.0,"y":-0.27},{"p":"a1","s":"v","k":"o2","t":2.15,"y":-0.2},{"p":"a1","s":"v","k":"o2","t":2.3,"y":-0.15},
{"p":"a2","s":"E","k":"r1","t":0.95,"y":0.0},{"p":"a2","s":"E","k":"r1","t":1.05,"y":0.05},{"p":"a2","s":"E","k":"r1","t":1.12,"y":0.12},{"p":"a2","s":"E","k":"r1","t":1.2,"y":0.05},{"p":"a2","s":"E","k":"r1","t":1.3,"y":0.15},{"p":"a2","s":"E","k":"r1","t":1.4,"y":0.3},{"p":"a2","s":"E","k":"r1","t":1.5,"y":0.42},{"p":"a2","s":"E","k":"r1","t":1.6,"y":0.48},
{"p":"a2","s":"E","k":"r2","t":0.95,"y":0.2},{"p":"a2","s":"E","k":"r2","t":1.05,"y":0.35},{"p":"a2","s":"E","k":"r2","t":1.12,"y":0.3},{"p":"a2","s":"E","k":"r2","t":1.2,"y":0.15},{"p":"a2","s":"E","k":"r2","t":1.3,"y":0.22},{"p":"a2","s":"E","k":"r2","t":1.4,"y":0.35},{"p":"a2","s":"E","k":"r2","t":1.5,"y":0.44},
{"p":"a2","s":"E","k":"r3","t":0.95,"y":0.35},{"p":"a2","s":"E","k":"r3","t":1.05,"y":0.45},{"p":"a2","s":"E","k":"r3","t":1.12,"y":0.4},{"p":"a2","s":"E","k":"r3","t":1.2,"y":0.28},{"p":"a2","s":"E","k":"r3","t":1.3,"y":0.3},{"p":"a2","s":"E","k":"r3","t":1.4,"y":0.4},{"p":"a2","s":"E","k":"r3","t":1.5,"y":0.47},
{"p":"a2","s":"E","k":"r4","t":1.0,"y":0.45},{"p":"a2","s":"E","k":"r4","t":1.08,"y":0.3},{"p":"a2","s":"E","k":"r4","t":1.15,"y":0.22},{"p":"a2","s":"E","k":"r4","t":1.25,"y":0.25},{"p":"a2","s":"E","k":"r4","t":1.35,"y":0.33},{"p":"a2","s":"E","k":"r4","t":1.45,"y":0.42},
{"p":"a2","s":"v","k":"o1","t":0.95,"y":-0.66},{"p":"a2","s":"v","k":"o1","t":1.05,"y":-0.74},{"p":"a2","s":"v","k":"o1","t":1.15,"y":-0.79},{"p":"a2","s":"v","k":"o1","t":1.25,"y":-0.73},{"p":"a2","s":"v","k":"o1","t":1.35,"y":-0.58},{"p":"a2","s":"v","k":"o1","t":1.45,"y":-0.44},{"p":"a2","s":"v","k":"o1","t":1.55,"y":-0.32},{"p":"a2","s":"v","k":"o1","t":1.65,"y":-0.22},
{"p":"a2","s":"v","k":"o2","t":0.95,"y":-0.62},{"p":"a2","s":"v","k":"o2","t":1.05,"y":-0.62},{"p":"a2","s":"v","k":"o2","t":1.15,"y":-0.64},{"p":"a2","s":"v","k":"o2","t":1.25,"y":-0.6},{"p":"a2","s":"v","k":"o2","t":1.35,"y":-0.5},{"p":"a2","s":"v","k":"o2","t":1.45,"y":-0.4},{"p":"a2","s":"v","k":"o2","t":1.55,"y":-0.3},{"p":"a2","s":"v","k":"o2","t":1.65,"y":-0.22},
{"p":"a2","s":"v","k":"o3","t":0.95,"y":-0.55},{"p":"a2","s":"v","k":"o3","t":1.05,"y":-0.5},{"p":"a2","s":"v","k":"o3","t":1.15,"y":-0.52},{"p":"a2","s":"v","k":"o3","t":1.25,"y":-0.5},{"p":"a2","s":"v","k":"o3","t":1.35,"y":-0.43},{"p":"a2","s":"v","k":"o3","t":1.45,"y":-0.36},{"p":"a2","s":"v","k":"o3","t":1.55,"y":-0.28},
{"p":"a2","s":"v","k":"o4","t":1.05,"y":-0.45},{"p":"a2","s":"v","k":"o4","t":1.15,"y":-0.58},{"p":"a2","s":"v","k":"o4","t":1.25,"y":-0.68},{"p":"a2","s":"v","k":"o4","t":1.35,"y":-0.62},{"p":"a2","s":"v","k":"o4","t":1.45,"y":-0.48},{"p":"a2","s":"v","k":"o4","t":1.55,"y":-0.34},
{"p":"b1","s":"E","k":"r1","t":1.44,"y":-1.0},{"p":"b1","s":"E","k":"r1","t":1.46,"y":-0.5},{"p":"b1","s":"E","k":"r1","t":1.5,"y":-0.1},{"p":"b1","s":"E","k":"r1","t":1.55,"y":0.0},{"p":"b1","s":"E","k":"r1","t":1.65,"y":0.18},{"p":"b1","s":"E","k":"r1","t":1.75,"y":0.3},{"p":"b1","s":"E","k":"r1","t":1.85,"y":0.4},{"p":"b1","s":"E","k":"r1","t":2.0,"y":0.47},
{"p":"b1","s":"E","k":"r2","t":1.55,"y":0.48},{"p":"b1","s":"E","k":"r2","t":1.6,"y":0.25},{"p":"b1","s":"E","k":"r2","t":1.65,"y":0.17},{"p":"b1","s":"E","k":"r2","t":1.72,"y":0.2},{"p":"b1","s":"E","k":"r2","t":1.8,"y":0.3},{"p":"b1","s":"E","k":"r2","t":1.9,"y":0.4},{"p":"b1","s":"E","k":"r2","t":2.0,"y":0.46},
{"p":"b1","s":"E","k":"r3","t":1.55,"y":0.5},{"p":"b1","s":"E","k":"r3","t":1.62,"y":0.32},{"p":"b1","s":"E","k":"r3","t":1.7,"y":0.3},{"p":"b1","s":"E","k":"r3","t":1.8,"y":0.36},{"p":"b1","s":"E","k":"r3","t":1.9,"y":0.43},{"p":"b1","s":"E","k":"r3","t":2.0,"y":0.47},
{"p":"b1","s":"E","k":"r4","t":2.15,"y":0.5},{"p":"b1","s":"E","k":"r4","t":2.25,"y":0.44},{"p":"b1","s":"E","k":"r4","t":2.35,"y":0.42},{"p":"b1","s":"E","k":"r4","t":2.45,"y":0.45},{"p":"b1","s":"E","k":"r4","t":2.6,"y":0.49},
{"p":"b1","s":"v","k":"o1","t":1.45,"y":-0.85},{"p":"b1","s":"v","k":"o1","t":1.55,"y":-0.75},{"p":"b1","s":"v","k":"o1","t":1.65,"y":-0.78},{"p":"b1","s":"v","k":"o1","t":1.75,"y":-0.72},{"p":"b1","s":"v","k":"o1","t":1.85,"y":-0.6},{"p":"b1","s":"v","k":"o1","t":2.0,"y":-0.5},{"p":"b1","s":"v","k":"o1","t":2.15,"y":-0.47},
{"p":"b1","s":"v","k":"o2","t":1.5,"y":-0.55},{"p":"b1","s":"v","k":"o2","t":1.6,"y":-0.6},{"p":"b1","s":"v","k":"o2","t":1.7,"y":-0.65},{"p":"b1","s":"v","k":"o2","t":1.8,"y":-0.58},{"p":"b1","s":"v","k":"o2","t":1.9,"y":-0.5},{"p":"b1","s":"v","k":"o2","t":2.0,"y":-0.46},
{"p":"b1","s":"v","k":"o3","t":2.2,"y":-0.45},{"p":"b1","s":"v","k":"o3","t":2.35,"y":-0.5},{"p":"b1","s":"v","k":"o3","t":2.45,"y":-0.55},{"p":"b1","s":"v","k":"o3","t":2.6,"y":-0.53},{"p":"b1","s":"v","k":"o3","t":2.75,"y":-0.5},
{"p":"b2","s":"E","k":"r1","t":1.0,"y":0.0},{"p":"b2","s":"E","k":"r1","t":1.1,"y":0.05},{"p":"b2","s":"E","k":"r1","t":1.2,"y":0.02},{"p":"b2","s":"E","k":"r1","t":1.3,"y":0.1},{"p":"b2","s":"E","k":"r1","t":1.4,"y":0.25},{"p":"b2","s":"E","k":"r1","t":1.5,"y":0.38},{"p":"b2","s":"E","k":"r1","t":1.6,"y":0.45},
{"p":"b2","s":"E","k":"r2","t":1.0,"y":0.3},{"p":"b2","s":"E","k":"r2","t":1.05,"y":0.5},{"p":"b2","s":"E","k":"r2","t":1.1,"y":0.35},{"p":"b2","s":"E","k":"r2","t":1.15,"y":0.2},{"p":"b2","s":"E","k":"r2","t":1.25,"y":0.15},{"p":"b2","s":"E","k":"r2","t":1.35,"y":0.25},{"p":"b2","s":"E","k":"r2","t":1.45,"y":0.38},{"p":"b2","s":"E","k":"r2","t":1.55,"y":0.45},
{"p":"b2","s":"E","k":"r3","t":1.0,"y":0.45},{"p":"b2","s":"E","k":"r3","t":1.05,"y":0.62},{"p":"b2","s":"E","k":"r3","t":1.1,"y":0.45},{"p":"b2","s":"E","k":"r3","t":1.2,"y":0.3},{"p":"b2","s":"E","k":"r3","t":1.3,"y":0.3},{"p":"b2","s":"E","k":"r3","t":1.4,"y":0.38},{"p":"b2","s":"E","k":"r3","t":1.5,"y":0.45},
{"p":"b2","s":"E","k":"r4","t":0.97,"y":0.1},{"p":"b2","s":"E","k":"r4","t":1.05,"y":0.4},{"p":"b2","s":"E","k":"r4","t":1.12,"y":0.15},{"p":"b2","s":"E","k":"r4","t":1.2,"y":0.08},{"p":"b2","s":"E","k":"r4","t":1.3,"y":0.15},{"p":"b2","s":"E","k":"r4","t":1.4,"y":0.3},{"p":"b2","s":"E","k":"r4","t":1.5,"y":0.42},
{"p":"b2","s":"v","k":"o1","t":0.75,"y":-0.92},{"p":"b2","s":"v","k":"o1","t":0.85,"y":-0.8},{"p":"b2","s":"v","k":"o1","t":0.95,"y":-0.72},{"p":"b2","s":"v","k":"o1","t":1.05,"y":-0.68},{"p":"b2","s":"v","k":"o1","t":1.15,"y":-0.7},{"p":"b2","s":"v","k":"o1","t":1.25,"y":-0.7},{"p":"b2","s":"v","k":"o1","t":1.35,"y":-0.62},{"p":"b2","s":"v","k":"o1","t":1.45,"y":-0.52},
{"p":"b2","s":"v","k":"o2","t":0.75,"y":-0.8},{"p":"b2","s":"v","k":"o2","t":0.85,"y":-0.7},{"p":"b2","s":"v","k":"o2","t":0.95,"y":-0.62},{"p":"b2","s":"v","k":"o2","t":1.05,"y":-0.58},{"p":"b2","s":"v","k":"o2","t":1.15,"y":-0.62},{"p":"b2","s":"v","k":"o2","t":1.25,"y":-0.64},{"p":"b2","s":"v","k":"o2","t":1.35,"y":-0.56},{"p":"b2","s":"v","k":"o2","t":1.45,"y":-0.5},
{"p":"b2","s":"v","k":"o3","t":0.8,"y":-0.68},{"p":"b2","s":"v","k":"o3","t":0.9,"y":-0.6},{"p":"b2","s":"v","k":"o3","t":1.0,"y":-0.55},{"p":"b2","s":"v","k":"o3","t":1.1,"y":-0.6},{"p":"b2","s":"v","k":"o3","t":1.2,"y":-0.68},{"p":"b2","s":"v","k":"o3","t":1.3,"y":-0.6},{"p":"b2","s":"v","k":"o3","t":1.4,"y":-0.5},
{"p":"c1","s":"E","k":"r1","t":1.38,"y":-0.15},{"p":"c1","s":"E","k":"r1","t":1.5,"y":-0.18},{"p":"c1","s":"E","k":"r1","t":1.63,"y":0.0},{"p":"c1","s":"E","k":"r1","t":1.74,"y":0.23},{"p":"c1","s":"E","k":"r1","t":1.9,"y":0.42},{"p":"c1","s":"E","k":"r1","t":2.07,"y":0.47},{"p":"c1","s":"E","k":"r1","t":2.2,"y":0.49},
{"p":"c1","s":"E","k":"r2","t":1.6,"y":0.5},{"p":"c1","s":"E","k":"r2","t":1.65,"y":0.38},{"p":"c1","s":"E","k":"r2","t":1.72,"y":0.36},{"p":"c1","s":"E","k":"r2","t":1.8,"y":0.42},{"p":"c1","s":"E","k":"r2","t":1.9,"y":0.46},
{"p":"c1","s":"E","k":"r3","t":1.62,"y":0.45},{"p":"c1","s":"E","k":"r3","t":1.68,"y":0.4},{"p":"c1","s":"E","k":"r3","t":1.75,"y":0.4},{"p":"c1","s":"E","k":"r3","t":1.85,"y":0.45},
{"p":"c1","s":"v","k":"o1","t":1.35,"y":-0.78},{"p":"c1","s":"v","k":"o1","t":1.5,"y":-0.8},{"p":"c1","s":"v","k":"o1","t":1.65,"y":-0.78},{"p":"c1","s":"v","k":"o1","t":1.8,"y":-0.68},{"p":"c1","s":"v","k":"o1","t":1.95,"y":-0.62},
{"p":"c2","s":"d","k":"k1","t":0.98,"y":0.6},{"p":"c2","s":"d","k":"k1","t":1.0,"y":0.5},{"p":"c2","s":"d","k":"k1","t":1.03,"y":0.44},{"p":"c2","s":"d","k":"k1","t":1.07,"y":0.45},{"p":"c2","s":"d","k":"k1","t":1.1,"y":0.52},{"p":"c2","s":"d","k":"k1","t":1.13,"y":0.62},
{"p":"c2","s":"E","k":"r1","t":0.95,"y":-0.08},{"p":"c2","s":"E","k":"r1","t":1.05,"y":-0.05},{"p":"c2","s":"E","k":"r1","t":1.15,"y":-0.05},{"p":"c2","s":"E","k":"r1","t":1.25,"y":0.05},{"p":"c2","s":"E","k":"r1","t":1.35,"y":0.25},{"p":"c2","s":"E","k":"r1","t":1.45,"y":0.42},{"p":"c2","s":"E","k":"r1","t":1.55,"y":0.5},
{"p":"c2","s":"E","k":"r2","t":1.0,"y":0.2},{"p":"c2","s":"E","k":"r2","t":1.1,"y":0.12},{"p":"c2","s":"E","k":"r2","t":1.2,"y":0.1},{"p":"c2","s":"E","k":"r2","t":1.3,"y":0.2},{"p":"c2","s":"E","k":"r2","t":1.4,"y":0.35},{"p":"c2","s":"E","k":"r2","t":1.5,"y":0.45},
{"p":"c2","s":"E","k":"r3","t":1.05,"y":0.35},{"p":"c2","s":"E","k":"r3","t":1.15,"y":0.25},{"p":"c2","s":"E","k":"r3","t":1.25,"y":0.28},{"p":"c2","s":"E","k":"r3","t":1.35,"y":0.38},{"p":"c2","s":"E","k":"r3","t":1.45,"y":0.46},
{"p":"c2","s":"E","k":"r4","t":1.0,"y":0.05},{"p":"c2","s":"E","k":"r4","t":1.1,"y":-0.02},{"p":"c2","s":"E","k":"r4","t":1.2,"y":0.0},{"p":"c2","s":"E","k":"r4","t":1.3,"y":0.12},{"p":"c2","s":"E","k":"r4","t":1.4,"y":0.3},{"p":"c2","s":"E","k":"r4","t":1.5,"y":0.44},
{"p":"c2","s":"v","k":"o1","t":0.75,"y":-1.0},{"p":"c2","s":"v","k":"o1","t":0.78,"y":-0.85},{"p":"c2","s":"v","k":"o1","t":0.82,"y":-0.75},{"p":"c2","s":"v","k":"o1","t":0.88,"y":-0.7},
{"p":"c2","s":"v","k":"o2","t":0.95,"y":-0.7},{"p":"c2","s":"v","k":"o2","t":1.05,"y":-0.75},{"p":"c2","s":"v","k":"o2","t":1.15,"y":-0.78},{"p":"c2","s":"v","k":"o2","t":1.25,"y":-0.72},{"p":"c2","s":"v","k":"o2","t":1.35,"y":-0.66}
]
},
"columns":2,
"spacing":{"row":30.5,"column":28.7},
"bounds":"flush",
"resolve":{"scale":{"x":"independent","y":"independent","color":"independent"},"legend":{"color":"independent"}},
"concat":[
{"width":583,"height":310,"title":{"text":"(a1)"},"resolve":{"axis":{"x":"independent","y":"independent"}},"layer":[
{"data":{"name":"bands"},"transform":[{"filter":"datum.p=='a1' && datum.s=='v'"}],"mark":{"type":"area","color":"#ffa500","interpolate":"monotone","clip":true},"encoding":{"x":{"field":"t","type":"quantitative","scale":{"domain":[0.75,4.2],"nice":false,"zero":false},"axis":{"orient":"bottom","values":[1,2,3,4],"labels":false,"title":null}},"y":{"field":"lo","type":"quantitative","scale":{"domain":[-1.5,1.5],"nice":false,"zero":false},"axis":{"orient":"left","values":[-1.5,-1,-0.5,0,0.5,1,1.5],"format":".1f","title":"Phase/π","titlePadding":3}},"y2":{"field":"hi"}}},
{"data":{"name":"bands"},"transform":[{"filter":"datum.p=='a1' && datum.s=='v'"},{"fold":["lo","hi"],"as":["edge","val"]}],"mark":{"type":"line","interpolate":"monotone","clip":true,"strokeWidth":1.3},"encoding":{"x":{"field":"t","type":"quantitative","axis":null},"y":{"field":"val","type":"quantitative","axis":null},"detail":{"field":"edge"},"color":{"field":"s","type":"nominal","scale":{"domain":["v","E","d"],"range":["#ffa500","#ff0000","#000000"]},"legend":{"title":null,"labelExpr":"datum.value=='v'?'ψᵥₓ':datum.value=='E'?'ψᴇₓ':'|ψᵥₓ − ψᴇₓ|'","encode":{"symbols":{"update":{"strokeWidth":{"signal":"datum.value=='d'?4:1.6"}}}}}}}},
{"data":{"name":"traces"},"transform":[{"filter":"datum.p=='a1' && datum.s=='v'"}],"mark":{"type":"line","interpolate":"monotone","clip":true,"strokeWidth":1.3},"encoding":{"x":{"field":"t","type":"quantitative","axis":null},"y":{"field":"y","type":"quantitative","axis":null},"detail":{"field":"k"},"color":{"field":"s","type":"nominal","scale":{"domain":["v","E","d"],"range":["#ffa500","#ff0000","#000000"]},"legend":{"title":null,"labelExpr":"datum.value=='v'?'ψᵥₓ':datum.value=='E'?'ψᴇₓ':'|ψᵥₓ − ψᴇₓ|'","encode":{"symbols":{"update":{"strokeWidth":{"signal":"datum.value=='d'?4:1.6"}}}}}}}},
{"data":{"name":"bands"},"transform":[{"filter":"datum.p=='a1' && datum.s=='E'"}],"mark":{"type":"area","color":"#ff0000","interpolate":"monotone","clip":true},"encoding":{"x":{"field":"t","type":"quantitative","axis":{"orient":"top","values":[1,2,3,4],"labels":false,"title":null}},"y":{"field":"lo","type":"quantitative","axis":{"orient":"right","values":[-1.5,-1,-0.5,0,0.5,1,1.5],"labels":false,"title":null}},"y2":{"field":"hi"}}},
{"data":{"name":"bands"},"transform":[{"filter":"datum.p=='a1' && datum.s=='E'"},{"fold":["lo","hi"],"as":["edge","val"]}],"mark":{"type":"line","interpolate":"monotone","clip":true,"strokeWidth":1.3},"encoding":{"x":{"field":"t","type":"quantitative","axis":null},"y":{"field":"val","type":"quantitative","axis":null},"detail":{"field":"edge"},"color":{"field":"s","type":"nominal","scale":{"domain":["v","E","d"],"range":["#ffa500","#ff0000","#000000"]},"legend":{"title":null,"labelExpr":"datum.value=='v'?'ψᵥₓ':datum.value=='E'?'ψᴇₓ':'|ψᵥₓ − ψᴇₓ|'","encode":{"symbols":{"update":{"strokeWidth":{"signal":"datum.value=='d'?4:1.6"}}}}}}}},
{"data":{"name":"traces"},"transform":[{"filter":"datum.p=='a1' && datum.s=='E'"}],"mark":{"type":"line","interpolate":"monotone","clip":true,"strokeWidth":1.3},"encoding":{"x":{"field":"t","type":"quantitative","axis":null},"y":{"field":"y","type":"quantitative","axis":null},"detail":{"field":"k"},"color":{"field":"s","type":"nominal","scale":{"domain":["v","E","d"],"range":["#ffa500","#ff0000","#000000"]},"legend":{"title":null,"labelExpr":"datum.value=='v'?'ψᵥₓ':datum.value=='E'?'ψᴇₓ':'|ψᵥₓ − ψᴇₓ|'","encode":{"symbols":{"update":{"strokeWidth":{"signal":"datum.value=='d'?4:1.6"}}}}}}}},
{"data":{"name":"bands"},"transform":[{"filter":"datum.p=='a1' && datum.s=='d'"}],"mark":{"type":"area","color":"#000000","interpolate":"monotone","clip":true},"encoding":{"x":{"field":"t","type":"quantitative","axis":{"orient":"bottom","values":[0.8,1.2,1.4,1.6,1.8,2.2,2.4,2.6,2.8,3.2,3.4,3.6,3.8],"labels":false,"title":null,"domain":false,"tickSize":-4,"tickWidth":1.1}},"y":{"field":"lo","type":"quantitative","axis":{"orient":"left","values":[-1.4,-1.3,-1.2,-1.1,-0.9,-0.8,-0.7,-0.6,-0.4,-0.3,-0.2,-0.1,0.1,0.2,0.3,0.4,0.6,0.7,0.8,0.9,1.1,1.2,1.3,1.4],"labels":false,"title":null,"domain":false,"tickSize":-4,"tickWidth":1.1}},"y2":{"field":"hi"}}},
{"data":{"name":"bands"},"transform":[{"filter":"datum.p=='a1' && datum.s=='d'"},{"fold":["lo","hi"],"as":["edge","val"]}],"mark":{"type":"line","interpolate":"monotone","clip":true,"strokeWidth":3},"encoding":{"x":{"field":"t","type":"quantitative","axis":{"orient":"top","values":[0.8,1.2,1.4,1.6,1.8,2.2,2.4,2.6,2.8,3.2,3.4,3.6,3.8],"labels":false,"title":null,"domain":false,"tickSize":-4,"tickWidth":1.1}},"y":{"field":"val","type":"quantitative","axis":{"orient":"right","values":[-1.4,-1.3,-1.2,-1.1,-0.9,-0.8,-0.7,-0.6,-0.4,-0.3,-0.2,-0.1,0.1,0.2,0.3,0.4,0.6,0.7,0.8,0.9,1.1,1.2,1.3,1.4],"labels":false,"title":null,"domain":false,"tickSize":-4,"tickWidth":1.1}},"detail":{"field":"edge"},"color":{"field":"s","type":"nominal","scale":{"domain":["v","E","d"],"range":["#ffa500","#ff0000","#000000"]},"legend":{"title":null,"labelExpr":"datum.value=='v'?'ψᵥₓ':datum.value=='E'?'ψᴇₓ':'|ψᵥₓ − ψᴇₓ|'","encode":{"symbols":{"update":{"strokeWidth":{"signal":"datum.value=='d'?4:1.6"}}}}}}}},
{"data":{"name":"traces"},"transform":[{"filter":"datum.p=='a1' && datum.s=='d'"}],"mark":{"type":"line","interpolate":"monotone","clip":true,"strokeWidth":3},"encoding":{"x":{"field":"t","type":"quantitative","axis":null},"y":{"field":"y","type":"quantitative","axis":null},"detail":{"field":"k"},"color":{"field":"s","type":"nominal","scale":{"domain":["v","E","d"],"range":["#ffa500","#ff0000","#000000"]},"legend":{"title":null,"labelExpr":"datum.value=='v'?'ψᵥₓ':datum.value=='E'?'ψᴇₓ':'|ψᵥₓ − ψᴇₓ|'","encode":{"symbols":{"update":{"strokeWidth":{"signal":"datum.value=='d'?4:1.6"}}}}}}}},
{"data":{"name":"hl"},"mark":{"type":"rule","color":"black","strokeWidth":1.5,"strokeDash":[7,4]},"encoding":{"y":{"field":"y","type":"quantitative","axis":null}}},
{"data":{"name":"bands"},"transform":[{"filter":"datum.p=='a1'"}],"mark":{"type":"line","interpolate":"monotone","strokeWidth":3.8,"clip":true},"encoding":{"x":{"field":"t","type":"quantitative","axis":null},"y":{"field":"m","type":"quantitative","axis":null},"detail":{"field":"s"},"stroke":{"condition":[{"test":"datum.s=='d'","value":"#808080"},{"test":"datum.s=='E'","value":"#ff6010"}],"value":"#ffff00"}}},
{"data":{"name":"bands"},"transform":[{"filter":"datum.p=='a1'"}],"mark":{"type":"line","interpolate":"monotone","strokeWidth":1.3,"strokeDash":[4,3],"clip":true},"encoding":{"x":{"field":"t","type":"quantitative","axis":null},"y":{"field":"m","type":"quantitative","axis":null},"detail":{"field":"s"},"stroke":{"condition":{"test":"datum.s=='d'","value":"#ffffff"},"value":"#000000"}}}
]},
{"width":583,"height":310,"title":{"text":"(a2)","dy":13},"resolve":{"axis":{"x":"independent","y":"independent"}},"layer":[
{"data":{"name":"bands"},"transform":[{"filter":"datum.p=='a2' && datum.s=='v'"}],"mark":{"type":"area","color":"#ffa500","interpolate":"monotone","clip":true},"encoding":{"x":{"field":"t","type":"quantitative","scale":{"domain":[0.75,4.2],"nice":false,"zero":false},"axis":{"orient":"bottom","values":[1,2,3,4],"labels":false,"title":null}},"y":{"field":"lo","type":"quantitative","scale":{"domain":[-1.5,1.5],"nice":false,"zero":false},"axis":{"orient":"left","values":[-1.5,-1,-0.5,0,0.5,1,1.5],"labels":false,"title":null}},"y2":{"field":"hi"}}},
{"data":{"name":"bands"},"transform":[{"filter":"datum.p=='a2' && datum.s=='v'"},{"fold":["lo","hi"],"as":["edge","val"]}],"mark":{"type":"line","interpolate":"monotone","clip":true,"strokeWidth":1.3},"encoding":{"x":{"field":"t","type":"quantitative","axis":null},"y":{"field":"val","type":"quantitative","axis":null},"detail":{"field":"edge"},"color":{"field":"s","type":"nominal","scale":{"domain":["v","E","d"],"range":["#ffa500","#ff0000","#000000"]},"legend":{"title":null,"labelExpr":"datum.value=='v'?'ψᵥₓ':datum.value=='E'?'ψᴇₓ':'|ψᵥₓ − ψᴇₓ|'","encode":{"symbols":{"update":{"strokeWidth":{"signal":"datum.value=='d'?4:1.6"}}}}}}}},
{"data":{"name":"traces"},"transform":[{"filter":"datum.p=='a2' && datum.s=='v'"}],"mark":{"type":"line","interpolate":"monotone","clip":true,"strokeWidth":1.3},"encoding":{"x":{"field":"t","type":"quantitative","axis":null},"y":{"field":"y","type":"quantitative","axis":null},"detail":{"field":"k"},"color":{"field":"s","type":"nominal","scale":{"domain":["v","E","d"],"range":["#ffa500","#ff0000","#000000"]},"legend":{"title":null,"labelExpr":"datum.value=='v'?'ψᵥₓ':datum.value=='E'?'ψᴇₓ':'|ψᵥₓ − ψᴇₓ|'","encode":{"symbols":{"update":{"strokeWidth":{"signal":"datum.value=='d'?4:1.6"}}}}}}}},
{"data":{"name":"bands"},"transform":[{"filter":"datum.p=='a2' && datum.s=='E'"}],"mark":{"type":"area","color":"#ff0000","interpolate":"monotone","clip":true},"encoding":{"x":{"field":"t","type":"quantitative","axis":{"orient":"top","values":[1,2,3,4],"labels":false,"title":null}},"y":{"field":"lo","type":"quantitative","axis":{"orient":"right","values":[-1.5,-1,-0.5,0,0.5,1,1.5],"labels":false,"title":null}},"y2":{"field":"hi"}}},
{"data":{"name":"bands"},"transform":[{"filter":"datum.p=='a2' && datum.s=='E'"},{"fold":["lo","hi"],"as":["edge","val"]}],"mark":{"type":"line","interpolate":"monotone","clip":true,"strokeWidth":1.3},"encoding":{"x":{"field":"t","type":"quantitative","axis":null},"y":{"field":"val","type":"quantitative","axis":null},"detail":{"field":"edge"},"color":{"field":"s","type":"nominal","scale":{"domain":["v","E","d"],"range":["#ffa500","#ff0000","#000000"]},"legend":{"title":null,"labelExpr":"datum.value=='v'?'ψᵥₓ':datum.value=='E'?'ψᴇₓ':'|ψᵥₓ − ψᴇₓ|'","encode":{"symbols":{"update":{"strokeWidth":{"signal":"datum.value=='d'?4:1.6"}}}}}}}},
{"data":{"name":"traces"},"transform":[{"filter":"datum.p=='a2' && datum.s=='E'"}],"mark":{"type":"line","interpolate":"monotone","clip":true,"strokeWidth":1.3},"encoding":{"x":{"field":"t","type":"quantitative","axis":null},"y":{"field":"y","type":"quantitative","axis":null},"detail":{"field":"k"},"color":{"field":"s","type":"nominal","scale":{"domain":["v","E","d"],"range":["#ffa500","#ff0000","#000000"]},"legend":{"title":null,"labelExpr":"datum.value=='v'?'ψᵥₓ':datum.value=='E'?'ψᴇₓ':'|ψᵥₓ − ψᴇₓ|'","encode":{"symbols":{"update":{"strokeWidth":{"signal":"datum.value=='d'?4:1.6"}}}}}}}},
{"data":{"name":"bands"},"transform":[{"filter":"datum.p=='a2' && datum.s=='d'"}],"mark":{"type":"area","color":"#000000","interpolate":"monotone","clip":true},"encoding":{"x":{"field":"t","type":"quantitative","axis":{"orient":"bottom","values":[0.8,1.2,1.4,1.6,1.8,2.2,2.4,2.6,2.8,3.2,3.4,3.6,3.8],"labels":false,"title":null,"domain":false,"tickSize":-4,"tickWidth":1.1}},"y":{"field":"lo","type":"quantitative","axis":{"orient":"left","values":[-1.4,-1.3,-1.2,-1.1,-0.9,-0.8,-0.7,-0.6,-0.4,-0.3,-0.2,-0.1,0.1,0.2,0.3,0.4,0.6,0.7,0.8,0.9,1.1,1.2,1.3,1.4],"labels":false,"title":null,"domain":false,"tickSize":-4,"tickWidth":1.1}},"y2":{"field":"hi"}}},
{"data":{"name":"bands"},"transform":[{"filter":"datum.p=='a2' && datum.s=='d'"},{"fold":["lo","hi"],"as":["edge","val"]}],"mark":{"type":"line","interpolate":"monotone","clip":true,"strokeWidth":3},"encoding":{"x":{"field":"t","type":"quantitative","axis":{"orient":"top","values":[0.8,1.2,1.4,1.6,1.8,2.2,2.4,2.6,2.8,3.2,3.4,3.6,3.8],"labels":false,"title":null,"domain":false,"tickSize":-4,"tickWidth":1.1}},"y":{"field":"val","type":"quantitative","axis":{"orient":"right","values":[-1.4,-1.3,-1.2,-1.1,-0.9,-0.8,-0.7,-0.6,-0.4,-0.3,-0.2,-0.1,0.1,0.2,0.3,0.4,0.6,0.7,0.8,0.9,1.1,1.2,1.3,1.4],"labels":false,"title":null,"domain":false,"tickSize":-4,"tickWidth":1.1}},"detail":{"field":"edge"},"color":{"field":"s","type":"nominal","scale":{"domain":["v","E","d"],"range":["#ffa500","#ff0000","#000000"]},"legend":{"title":null,"labelExpr":"datum.value=='v'?'ψᵥₓ':datum.value=='E'?'ψᴇₓ':'|ψᵥₓ − ψᴇₓ|'","encode":{"symbols":{"update":{"strokeWidth":{"signal":"datum.value=='d'?4:1.6"}}}}}}}},
{"data":{"name":"traces"},"transform":[{"filter":"datum.p=='a2' && datum.s=='d'"}],"mark":{"type":"line","interpolate":"monotone","clip":true,"strokeWidth":3},"encoding":{"x":{"field":"t","type":"quantitative","axis":null},"y":{"field":"y","type":"quantitative","axis":null},"detail":{"field":"k"},"color":{"field":"s","type":"nominal","scale":{"domain":["v","E","d"],"range":["#ffa500","#ff0000","#000000"]},"legend":{"title":null,"labelExpr":"datum.value=='v'?'ψᵥₓ':datum.value=='E'?'ψᴇₓ':'|ψᵥₓ − ψᴇₓ|'","encode":{"symbols":{"update":{"strokeWidth":{"signal":"datum.value=='d'?4:1.6"}}}}}}}},
{"data":{"name":"hl"},"mark":{"type":"rule","color":"black","strokeWidth":1.5,"strokeDash":[7,4]},"encoding":{"y":{"field":"y","type":"quantitative","axis":null}}},
{"data":{"name":"bands"},"transform":[{"filter":"datum.p=='a2'"}],"mark":{"type":"line","interpolate":"monotone","strokeWidth":3.8,"clip":true},"encoding":{"x":{"field":"t","type":"quantitative","axis":null},"y":{"field":"m","type":"quantitative","axis":null},"detail":{"field":"s"},"stroke":{"condition":[{"test":"datum.s=='d'","value":"#808080"},{"test":"datum.s=='E'","value":"#ff6010"}],"value":"#ffff00"}}},
{"data":{"name":"bands"},"transform":[{"filter":"datum.p=='a2'"}],"mark":{"type":"line","interpolate":"monotone","strokeWidth":1.3,"strokeDash":[4,3],"clip":true},"encoding":{"x":{"field":"t","type":"quantitative","axis":null},"y":{"field":"m","type":"quantitative","axis":null},"detail":{"field":"s"},"stroke":{"condition":{"test":"datum.s=='d'","value":"#ffffff"},"value":"#000000"}}}
]},
{"width":583,"height":310,"title":{"text":"(b1)"},"resolve":{"axis":{"x":"independent","y":"independent"}},"layer":[
{"data":{"name":"bands"},"transform":[{"filter":"datum.p=='b1' && datum.s=='v'"}],"mark":{"type":"area","color":"#ffa500","interpolate":"monotone","clip":true},"encoding":{"x":{"field":"t","type":"quantitative","scale":{"domain":[0.75,4.2],"nice":false,"zero":false},"axis":{"orient":"bottom","values":[1,2,3,4],"labels":false,"title":null}},"y":{"field":"lo","type":"quantitative","scale":{"domain":[-1.5,1.5],"nice":false,"zero":false},"axis":{"orient":"left","values":[-1.5,-1,-0.5,0,0.5,1,1.5],"format":".1f","title":"Phase/π","titlePadding":3}},"y2":{"field":"hi"}}},
{"data":{"name":"bands"},"transform":[{"filter":"datum.p=='b1' && datum.s=='v'"},{"fold":["lo","hi"],"as":["edge","val"]}],"mark":{"type":"line","interpolate":"monotone","clip":true,"strokeWidth":1.3},"encoding":{"x":{"field":"t","type":"quantitative","axis":null},"y":{"field":"val","type":"quantitative","axis":null},"detail":{"field":"edge"},"color":{"field":"s","type":"nominal","scale":{"domain":["v","E","d"],"range":["#ffa500","#ff0000","#000000"]},"legend":{"title":null,"labelExpr":"datum.value=='v'?'ψᵥₓ':datum.value=='E'?'ψᴇₓ':'|ψᵥₓ − ψᴇₓ|'","encode":{"symbols":{"update":{"strokeWidth":{"signal":"datum.value=='d'?4:1.6"}}}}}}}},
{"data":{"name":"traces"},"transform":[{"filter":"datum.p=='b1' && datum.s=='v'"}],"mark":{"type":"line","interpolate":"monotone","clip":true,"strokeWidth":1.3},"encoding":{"x":{"field":"t","type":"quantitative","axis":null},"y":{"field":"y","type":"quantitative","axis":null},"detail":{"field":"k"},"color":{"field":"s","type":"nominal","scale":{"domain":["v","E","d"],"range":["#ffa500","#ff0000","#000000"]},"legend":{"title":null,"labelExpr":"datum.value=='v'?'ψᵥₓ':datum.value=='E'?'ψᴇₓ':'|ψᵥₓ − ψᴇₓ|'","encode":{"symbols":{"update":{"strokeWidth":{"signal":"datum.value=='d'?4:1.6"}}}}}}}},
{"data":{"name":"bands"},"transform":[{"filter":"datum.p=='b1' && datum.s=='E'"}],"mark":{"type":"area","color":"#ff0000","interpolate":"monotone","clip":true},"encoding":{"x":{"field":"t","type":"quantitative","axis":{"orient":"top","values":[1,2,3,4],"labels":false,"title":null}},"y":{"field":"lo","type":"quantitative","axis":{"orient":"right","values":[-1.5,-1,-0.5,0,0.5,1,1.5],"labels":false,"title":null}},"y2":{"field":"hi"}}},
{"data":{"name":"bands"},"transform":[{"filter":"datum.p=='b1' && datum.s=='E'"},{"fold":["lo","hi"],"as":["edge","val"]}],"mark":{"type":"line","interpolate":"monotone","clip":true,"strokeWidth":1.3},"encoding":{"x":{"field":"t","type":"quantitative","axis":null},"y":{"field":"val","type":"quantitative","axis":null},"detail":{"field":"edge"},"color":{"field":"s","type":"nominal","scale":{"domain":["v","E","d"],"range":["#ffa500","#ff0000","#000000"]},"legend":{"title":null,"labelExpr":"datum.value=='v'?'ψᵥₓ':datum.value=='E'?'ψᴇₓ':'|ψᵥₓ − ψᴇₓ|'","encode":{"symbols":{"update":{"strokeWidth":{"signal":"datum.value=='d'?4:1.6"}}}}}}}},
{"data":{"name":"traces"},"transform":[{"filter":"datum.p=='b1' && datum.s=='E'"}],"mark":{"type":"line","interpolate":"monotone","clip":true,"strokeWidth":1.3},"encoding":{"x":{"field":"t","type":"quantitative","axis":null},"y":{"field":"y","type":"quantitative","axis":null},"detail":{"field":"k"},"color":{"field":"s","type":"nominal","scale":{"domain":["v","E","d"],"range":["#ffa500","#ff0000","#000000"]},"legend":{"title":null,"labelExpr":"datum.value=='v'?'ψᵥₓ':datum.value=='E'?'ψᴇₓ':'|ψᵥₓ − ψᴇₓ|'","encode":{"symbols":{"update":{"strokeWidth":{"signal":"datum.value=='d'?4:1.6"}}}}}}}},
{"data":{"name":"bands"},"transform":[{"filter":"datum.p=='b1' && datum.s=='d'"}],"mark":{"type":"area","color":"#000000","interpolate":"monotone","clip":true},"encoding":{"x":{"field":"t","type":"quantitative","axis":{"orient":"bottom","values":[0.8,1.2,1.4,1.6,1.8,2.2,2.4,2.6,2.8,3.2,3.4,3.6,3.8],"labels":false,"title":null,"domain":false,"tickSize":-4,"tickWidth":1.1}},"y":{"field":"lo","type":"quantitative","axis":{"orient":"left","values":[-1.4,-1.3,-1.2,-1.1,-0.9,-0.8,-0.7,-0.6,-0.4,-0.3,-0.2,-0.1,0.1,0.2,0.3,0.4,0.6,0.7,0.8,0.9,1.1,1.2,1.3,1.4],"labels":false,"title":null,"domain":false,"tickSize":-4,"tickWidth":1.1}},"y2":{"field":"hi"}}},
{"data":{"name":"bands"},"transform":[{"filter":"datum.p=='b1' && datum.s=='d'"},{"fold":["lo","hi"],"as":["edge","val"]}],"mark":{"type":"line","interpolate":"monotone","clip":true,"strokeWidth":3},"encoding":{"x":{"field":"t","type":"quantitative","axis":{"orient":"top","values":[0.8,1.2,1.4,1.6,1.8,2.2,2.4,2.6,2.8,3.2,3.4,3.6,3.8],"labels":false,"title":null,"domain":false,"tickSize":-4,"tickWidth":1.1}},"y":{"field":"val","type":"quantitative","axis":{"orient":"right","values":[-1.4,-1.3,-1.2,-1.1,-0.9,-0.8,-0.7,-0.6,-0.4,-0.3,-0.2,-0.1,0.1,0.2,0.3,0.4,0.6,0.7,0.8,0.9,1.1,1.2,1.3,1.4],"labels":false,"title":null,"domain":false,"tickSize":-4,"tickWidth":1.1}},"detail":{"field":"edge"},"color":{"field":"s","type":"nominal","scale":{"domain":["v","E","d"],"range":["#ffa500","#ff0000","#000000"]},"legend":{"title":null,"labelExpr":"datum.value=='v'?'ψᵥₓ':datum.value=='E'?'ψᴇₓ':'|ψᵥₓ − ψᴇₓ|'","encode":{"symbols":{"update":{"strokeWidth":{"signal":"datum.value=='d'?4:1.6"}}}}}}}},
{"data":{"name":"traces"},"transform":[{"filter":"datum.p=='b1' && datum.s=='d'"}],"mark":{"type":"line","interpolate":"monotone","clip":true,"strokeWidth":3},"encoding":{"x":{"field":"t","type":"quantitative","axis":null},"y":{"field":"y","type":"quantitative","axis":null},"detail":{"field":"k"},"color":{"field":"s","type":"nominal","scale":{"domain":["v","E","d"],"range":["#ffa500","#ff0000","#000000"]},"legend":{"title":null,"labelExpr":"datum.value=='v'?'ψᵥₓ':datum.value=='E'?'ψᴇₓ':'|ψᵥₓ − ψᴇₓ|'","encode":{"symbols":{"update":{"strokeWidth":{"signal":"datum.value=='d'?4:1.6"}}}}}}}},
{"data":{"name":"hl"},"mark":{"type":"rule","color":"black","strokeWidth":1.5,"strokeDash":[7,4]},"encoding":{"y":{"field":"y","type":"quantitative","axis":null}}},
{"data":{"name":"bands"},"transform":[{"filter":"datum.p=='b1'"}],"mark":{"type":"line","interpolate":"monotone","strokeWidth":3.8,"clip":true},"encoding":{"x":{"field":"t","type":"quantitative","axis":null},"y":{"field":"m","type":"quantitative","axis":null},"detail":{"field":"s"},"stroke":{"condition":[{"test":"datum.s=='d'","value":"#808080"},{"test":"datum.s=='E'","value":"#ff6010"}],"value":"#ffff00"}}},
{"data":{"name":"bands"},"transform":[{"filter":"datum.p=='b1'"}],"mark":{"type":"line","interpolate":"monotone","strokeWidth":1.3,"strokeDash":[4,3],"clip":true},"encoding":{"x":{"field":"t","type":"quantitative","axis":null},"y":{"field":"m","type":"quantitative","axis":null},"detail":{"field":"s"},"stroke":{"condition":{"test":"datum.s=='d'","value":"#ffffff"},"value":"#000000"}}}
]},
{"width":583,"height":310,"title":{"text":"(b2)","dy":13},"resolve":{"axis":{"x":"independent","y":"independent"}},"layer":[
{"data":{"name":"bands"},"transform":[{"filter":"datum.p=='b2' && datum.s=='v'"}],"mark":{"type":"area","color":"#ffa500","interpolate":"monotone","clip":true},"encoding":{"x":{"field":"t","type":"quantitative","scale":{"domain":[0.75,4.2],"nice":false,"zero":false},"axis":{"orient":"bottom","values":[1,2,3,4],"labels":false,"title":null}},"y":{"field":"lo","type":"quantitative","scale":{"domain":[-1.5,1.5],"nice":false,"zero":false},"axis":{"orient":"left","values":[-1.5,-1,-0.5,0,0.5,1,1.5],"labels":false,"title":null}},"y2":{"field":"hi"}}},
{"data":{"name":"bands"},"transform":[{"filter":"datum.p=='b2' && datum.s=='v'"},{"fold":["lo","hi"],"as":["edge","val"]}],"mark":{"type":"line","interpolate":"monotone","clip":true,"strokeWidth":1.3},"encoding":{"x":{"field":"t","type":"quantitative","axis":null},"y":{"field":"val","type":"quantitative","axis":null},"detail":{"field":"edge"},"color":{"field":"s","type":"nominal","scale":{"domain":["v","E","d"],"range":["#ffa500","#ff0000","#000000"]},"legend":{"title":null,"labelExpr":"datum.value=='v'?'ψᵥₓ':datum.value=='E'?'ψᴇₓ':'|ψᵥₓ − ψᴇₓ|'","encode":{"symbols":{"update":{"strokeWidth":{"signal":"datum.value=='d'?4:1.6"}}}}}}}},
{"data":{"name":"traces"},"transform":[{"filter":"datum.p=='b2' && datum.s=='v'"}],"mark":{"type":"line","interpolate":"monotone","clip":true,"strokeWidth":1.3},"encoding":{"x":{"field":"t","type":"quantitative","axis":null},"y":{"field":"y","type":"quantitative","axis":null},"detail":{"field":"k"},"color":{"field":"s","type":"nominal","scale":{"domain":["v","E","d"],"range":["#ffa500","#ff0000","#000000"]},"legend":{"title":null,"labelExpr":"datum.value=='v'?'ψᵥₓ':datum.value=='E'?'ψᴇₓ':'|ψᵥₓ − ψᴇₓ|'","encode":{"symbols":{"update":{"strokeWidth":{"signal":"datum.value=='d'?4:1.6"}}}}}}}},
{"data":{"name":"bands"},"transform":[{"filter":"datum.p=='b2' && datum.s=='E'"}],"mark":{"type":"area","color":"#ff0000","interpolate":"monotone","clip":true},"encoding":{"x":{"field":"t","type":"quantitative","axis":{"orient":"top","values":[1,2,3,4],"labels":false,"title":null}},"y":{"field":"lo","type":"quantitative","axis":{"orient":"right","values":[-1.5,-1,-0.5,0,0.5,1,1.5],"labels":false,"title":null}},"y2":{"field":"hi"}}},
{"data":{"name":"bands"},"transform":[{"filter":"datum.p=='b2' && datum.s=='E'"},{"fold":["lo","hi"],"as":["edge","val"]}],"mark":{"type":"line","interpolate":"monotone","clip":true,"strokeWidth":1.3},"encoding":{"x":{"field":"t","type":"quantitative","axis":null},"y":{"field":"val","type":"quantitative","axis":null},"detail":{"field":"edge"},"color":{"field":"s","type":"nominal","scale":{"domain":["v","E","d"],"range":["#ffa500","#ff0000","#000000"]},"legend":{"title":null,"labelExpr":"datum.value=='v'?'ψᵥₓ':datum.value=='E'?'ψᴇₓ':'|ψᵥₓ − ψᴇₓ|'","encode":{"symbols":{"update":{"strokeWidth":{"signal":"datum.value=='d'?4:1.6"}}}}}}}},
{"data":{"name":"traces"},"transform":[{"filter":"datum.p=='b2' && datum.s=='E'"}],"mark":{"type":"line","interpolate":"monotone","clip":true,"strokeWidth":1.3},"encoding":{"x":{"field":"t","type":"quantitative","axis":null},"y":{"field":"y","type":"quantitative","axis":null},"detail":{"field":"k"},"color":{"field":"s","type":"nominal","scale":{"domain":["v","E","d"],"range":["#ffa500","#ff0000","#000000"]},"legend":{"title":null,"labelExpr":"datum.value=='v'?'ψᵥₓ':datum.value=='E'?'ψᴇₓ':'|ψᵥₓ − ψᴇₓ|'","encode":{"symbols":{"update":{"strokeWidth":{"signal":"datum.value=='d'?4:1.6"}}}}}}}},
{"data":{"name":"bands"},"transform":[{"filter":"datum.p=='b2' && datum.s=='d'"}],"mark":{"type":"area","color":"#000000","interpolate":"monotone","clip":true},"encoding":{"x":{"field":"t","type":"quantitative","axis":{"orient":"bottom","values":[0.8,1.2,1.4,1.6,1.8,2.2,2.4,2.6,2.8,3.2,3.4,3.6,3.8],"labels":false,"title":null,"domain":false,"tickSize":-4,"tickWidth":1.1}},"y":{"field":"lo","type":"quantitative","axis":{"orient":"left","values":[-1.4,-1.3,-1.2,-1.1,-0.9,-0.8,-0.7,-0.6,-0.4,-0.3,-0.2,-0.1,0.1,0.2,0.3,0.4,0.6,0.7,0.8,0.9,1.1,1.2,1.3,1.4],"labels":false,"title":null,"domain":false,"tickSize":-4,"tickWidth":1.1}},"y2":{"field":"hi"}}},
{"data":{"name":"bands"},"transform":[{"filter":"datum.p=='b2' && datum.s=='d'"},{"fold":["lo","hi"],"as":["edge","val"]}],"mark":{"type":"line","interpolate":"monotone","clip":true,"strokeWidth":3},"encoding":{"x":{"field":"t","type":"quantitative","axis":{"orient":"top","values":[0.8,1.2,1.4,1.6,1.8,2.2,2.4,2.6,2.8,3.2,3.4,3.6,3.8],"labels":false,"title":null,"domain":false,"tickSize":-4,"tickWidth":1.1}},"y":{"field":"val","type":"quantitative","axis":{"orient":"right","values":[-1.4,-1.3,-1.2,-1.1,-0.9,-0.8,-0.7,-0.6,-0.4,-0.3,-0.2,-0.1,0.1,0.2,0.3,0.4,0.6,0.7,0.8,0.9,1.1,1.2,1.3,1.4],"labels":false,"title":null,"domain":false,"tickSize":-4,"tickWidth":1.1}},"detail":{"field":"edge"},"color":{"field":"s","type":"nominal","scale":{"domain":["v","E","d"],"range":["#ffa500","#ff0000","#000000"]},"legend":{"title":null,"labelExpr":"datum.value=='v'?'ψᵥₓ':datum.value=='E'?'ψᴇₓ':'|ψᵥₓ − ψᴇₓ|'","encode":{"symbols":{"update":{"strokeWidth":{"signal":"datum.value=='d'?4:1.6"}}}}}}}},
{"data":{"name":"traces"},"transform":[{"filter":"datum.p=='b2' && datum.s=='d'"}],"mark":{"type":"line","interpolate":"monotone","clip":true,"strokeWidth":3},"encoding":{"x":{"field":"t","type":"quantitative","axis":null},"y":{"field":"y","type":"quantitative","axis":null},"detail":{"field":"k"},"color":{"field":"s","type":"nominal","scale":{"domain":["v","E","d"],"range":["#ffa500","#ff0000","#000000"]},"legend":{"title":null,"labelExpr":"datum.value=='v'?'ψᵥₓ':datum.value=='E'?'ψᴇₓ':'|ψᵥₓ − ψᴇₓ|'","encode":{"symbols":{"update":{"strokeWidth":{"signal":"datum.value=='d'?4:1.6"}}}}}}}},
{"data":{"name":"hl"},"mark":{"type":"rule","color":"black","strokeWidth":1.5,"strokeDash":[7,4]},"encoding":{"y":{"field":"y","type":"quantitative","axis":null}}},
{"data":{"name":"bands"},"transform":[{"filter":"datum.p=='b2'"}],"mark":{"type":"line","interpolate":"monotone","strokeWidth":3.8,"clip":true},"encoding":{"x":{"field":"t","type":"quantitative","axis":null},"y":{"field":"m","type":"quantitative","axis":null},"detail":{"field":"s"},"stroke":{"condition":[{"test":"datum.s=='d'","value":"#808080"},{"test":"datum.s=='E'","value":"#ff6010"}],"value":"#ffff00"}}},
{"data":{"name":"bands"},"transform":[{"filter":"datum.p=='b2'"}],"mark":{"type":"line","interpolate":"monotone","strokeWidth":1.3,"strokeDash":[4,3],"clip":true},"encoding":{"x":{"field":"t","type":"quantitative","axis":null},"y":{"field":"m","type":"quantitative","axis":null},"detail":{"field":"s"},"stroke":{"condition":{"test":"datum.s=='d'","value":"#ffffff"},"value":"#000000"}}}
]},
{"width":583,"height":310,"title":{"text":"(c1)"},"resolve":{"axis":{"x":"independent","y":"independent"}},"layer":[
{"data":{"name":"bands"},"transform":[{"filter":"datum.p=='c1' && datum.s=='v'"}],"mark":{"type":"area","color":"#ffa500","interpolate":"monotone","clip":true},"encoding":{"x":{"field":"t","type":"quantitative","scale":{"domain":[0.75,4.2],"nice":false,"zero":false},"axis":{"orient":"bottom","values":[1,2,3,4],"format":"d","title":"t/T","titleFontStyle":"italic","titlePadding":-2}},"y":{"field":"lo","type":"quantitative","scale":{"domain":[-1.5,1.5],"nice":false,"zero":false},"axis":{"orient":"left","values":[-1.5,-1,-0.5,0,0.5,1,1.5],"format":".1f","title":"Phase/π","titlePadding":3}},"y2":{"field":"hi"}}},
{"data":{"name":"bands"},"transform":[{"filter":"datum.p=='c1' && datum.s=='v'"},{"fold":["lo","hi"],"as":["edge","val"]}],"mark":{"type":"line","interpolate":"monotone","clip":true,"strokeWidth":1.3},"encoding":{"x":{"field":"t","type":"quantitative","axis":null},"y":{"field":"val","type":"quantitative","axis":null},"detail":{"field":"edge"},"color":{"field":"s","type":"nominal","scale":{"domain":["v","E","d"],"range":["#ffa500","#ff0000","#000000"]},"legend":{"title":null,"labelExpr":"datum.value=='v'?'ψᵥₓ':datum.value=='E'?'ψᴇₓ':'|ψᵥₓ − ψᴇₓ|'","encode":{"symbols":{"update":{"strokeWidth":{"signal":"datum.value=='d'?4:1.6"}}}}}}}},
{"data":{"name":"traces"},"transform":[{"filter":"datum.p=='c1' && datum.s=='v'"}],"mark":{"type":"line","interpolate":"monotone","clip":true,"strokeWidth":1.3},"encoding":{"x":{"field":"t","type":"quantitative","axis":null},"y":{"field":"y","type":"quantitative","axis":null},"detail":{"field":"k"},"color":{"field":"s","type":"nominal","scale":{"domain":["v","E","d"],"range":["#ffa500","#ff0000","#000000"]},"legend":{"title":null,"labelExpr":"datum.value=='v'?'ψᵥₓ':datum.value=='E'?'ψᴇₓ':'|ψᵥₓ − ψᴇₓ|'","encode":{"symbols":{"update":{"strokeWidth":{"signal":"datum.value=='d'?4:1.6"}}}}}}}},
{"data":{"name":"bands"},"transform":[{"filter":"datum.p=='c1' && datum.s=='E'"}],"mark":{"type":"area","color":"#ff0000","interpolate":"monotone","clip":true},"encoding":{"x":{"field":"t","type":"quantitative","axis":{"orient":"top","values":[1,2,3,4],"labels":false,"title":null}},"y":{"field":"lo","type":"quantitative","axis":{"orient":"right","values":[-1.5,-1,-0.5,0,0.5,1,1.5],"labels":false,"title":null}},"y2":{"field":"hi"}}},
{"data":{"name":"bands"},"transform":[{"filter":"datum.p=='c1' && datum.s=='E'"},{"fold":["lo","hi"],"as":["edge","val"]}],"mark":{"type":"line","interpolate":"monotone","clip":true,"strokeWidth":1.3},"encoding":{"x":{"field":"t","type":"quantitative","axis":null},"y":{"field":"val","type":"quantitative","axis":null},"detail":{"field":"edge"},"color":{"field":"s","type":"nominal","scale":{"domain":["v","E","d"],"range":["#ffa500","#ff0000","#000000"]},"legend":{"title":null,"labelExpr":"datum.value=='v'?'ψᵥₓ':datum.value=='E'?'ψᴇₓ':'|ψᵥₓ − ψᴇₓ|'","encode":{"symbols":{"update":{"strokeWidth":{"signal":"datum.value=='d'?4:1.6"}}}}}}}},
{"data":{"name":"traces"},"transform":[{"filter":"datum.p=='c1' && datum.s=='E'"}],"mark":{"type":"line","interpolate":"monotone","clip":true,"strokeWidth":1.3},"encoding":{"x":{"field":"t","type":"quantitative","axis":null},"y":{"field":"y","type":"quantitative","axis":null},"detail":{"field":"k"},"color":{"field":"s","type":"nominal","scale":{"domain":["v","E","d"],"range":["#ffa500","#ff0000","#000000"]},"legend":{"title":null,"labelExpr":"datum.value=='v'?'ψᵥₓ':datum.value=='E'?'ψᴇₓ':'|ψᵥₓ − ψᴇₓ|'","encode":{"symbols":{"update":{"strokeWidth":{"signal":"datum.value=='d'?4:1.6"}}}}}}}},
{"data":{"name":"bands"},"transform":[{"filter":"datum.p=='c1' && datum.s=='d'"}],"mark":{"type":"area","color":"#000000","interpolate":"monotone","clip":true},"encoding":{"x":{"field":"t","type":"quantitative","axis":{"orient":"bottom","values":[0.8,1.2,1.4,1.6,1.8,2.2,2.4,2.6,2.8,3.2,3.4,3.6,3.8],"labels":false,"title":null,"domain":false,"tickSize":-4,"tickWidth":1.1}},"y":{"field":"lo","type":"quantitative","axis":{"orient":"left","values":[-1.4,-1.3,-1.2,-1.1,-0.9,-0.8,-0.7,-0.6,-0.4,-0.3,-0.2,-0.1,0.1,0.2,0.3,0.4,0.6,0.7,0.8,0.9,1.1,1.2,1.3,1.4],"labels":false,"title":null,"domain":false,"tickSize":-4,"tickWidth":1.1}},"y2":{"field":"hi"}}},
{"data":{"name":"bands"},"transform":[{"filter":"datum.p=='c1' && datum.s=='d'"},{"fold":["lo","hi"],"as":["edge","val"]}],"mark":{"type":"line","interpolate":"monotone","clip":true,"strokeWidth":3},"encoding":{"x":{"field":"t","type":"quantitative","axis":{"orient":"top","values":[0.8,1.2,1.4,1.6,1.8,2.2,2.4,2.6,2.8,3.2,3.4,3.6,3.8],"labels":false,"title":null,"domain":false,"tickSize":-4,"tickWidth":1.1}},"y":{"field":"val","type":"quantitative","axis":{"orient":"right","values":[-1.4,-1.3,-1.2,-1.1,-0.9,-0.8,-0.7,-0.6,-0.4,-0.3,-0.2,-0.1,0.1,0.2,0.3,0.4,0.6,0.7,0.8,0.9,1.1,1.2,1.3,1.4],"labels":false,"title":null,"domain":false,"tickSize":-4,"tickWidth":1.1}},"detail":{"field":"edge"},"color":{"field":"s","type":"nominal","scale":{"domain":["v","E","d"],"range":["#ffa500","#ff0000","#000000"]},"legend":{"title":null,"labelExpr":"datum.value=='v'?'ψᵥₓ':datum.value=='E'?'ψᴇₓ':'|ψᵥₓ − ψᴇₓ|'","encode":{"symbols":{"update":{"strokeWidth":{"signal":"datum.value=='d'?4:1.6"}}}}}}}},
{"data":{"name":"traces"},"transform":[{"filter":"datum.p=='c1' && datum.s=='d'"}],"mark":{"type":"line","interpolate":"monotone","clip":true,"strokeWidth":3},"encoding":{"x":{"field":"t","type":"quantitative","axis":null},"y":{"field":"y","type":"quantitative","axis":null},"detail":{"field":"k"},"color":{"field":"s","type":"nominal","scale":{"domain":["v","E","d"],"range":["#ffa500","#ff0000","#000000"]},"legend":{"title":null,"labelExpr":"datum.value=='v'?'ψᵥₓ':datum.value=='E'?'ψᴇₓ':'|ψᵥₓ − ψᴇₓ|'","encode":{"symbols":{"update":{"strokeWidth":{"signal":"datum.value=='d'?4:1.6"}}}}}}}},
{"data":{"name":"hl"},"mark":{"type":"rule","color":"black","strokeWidth":1.5,"strokeDash":[7,4]},"encoding":{"y":{"field":"y","type":"quantitative","axis":null}}},
{"data":{"name":"bands"},"transform":[{"filter":"datum.p=='c1'"}],"mark":{"type":"line","interpolate":"monotone","strokeWidth":3.8,"clip":true},"encoding":{"x":{"field":"t","type":"quantitative","axis":null},"y":{"field":"m","type":"quantitative","axis":null},"detail":{"field":"s"},"stroke":{"condition":[{"test":"datum.s=='d'","value":"#808080"},{"test":"datum.s=='E'","value":"#ff6010"}],"value":"#ffff00"}}},
{"data":{"name":"bands"},"transform":[{"filter":"datum.p=='c1'"}],"mark":{"type":"line","interpolate":"monotone","strokeWidth":1.3,"strokeDash":[4,3],"clip":true},"encoding":{"x":{"field":"t","type":"quantitative","axis":null},"y":{"field":"m","type":"quantitative","axis":null},"detail":{"field":"s"},"stroke":{"condition":{"test":"datum.s=='d'","value":"#ffffff"},"value":"#000000"}}}
]},
{"width":583,"height":310,"title":{"text":"(c2)","dy":13},"resolve":{"axis":{"x":"independent","y":"independent"}},"layer":[
{"data":{"name":"bands"},"transform":[{"filter":"datum.p=='c2' && datum.s=='v'"}],"mark":{"type":"area","color":"#ffa500","interpolate":"monotone","clip":true},"encoding":{"x":{"field":"t","type":"quantitative","scale":{"domain":[0.75,4.2],"nice":false,"zero":false},"axis":{"orient":"bottom","values":[1,2,3,4],"format":"d","title":"t/T","titleFontStyle":"italic","titlePadding":-2}},"y":{"field":"lo","type":"quantitative","scale":{"domain":[-1.5,1.5],"nice":false,"zero":false},"axis":{"orient":"left","values":[-1.5,-1,-0.5,0,0.5,1,1.5],"labels":false,"title":null}},"y2":{"field":"hi"}}},
{"data":{"name":"bands"},"transform":[{"filter":"datum.p=='c2' && datum.s=='v'"},{"fold":["lo","hi"],"as":["edge","val"]}],"mark":{"type":"line","interpolate":"monotone","clip":true,"strokeWidth":1.3},"encoding":{"x":{"field":"t","type":"quantitative","axis":null},"y":{"field":"val","type":"quantitative","axis":null},"detail":{"field":"edge"},"color":{"field":"s","type":"nominal","scale":{"domain":["v","E","d"],"range":["#ffa500","#ff0000","#000000"]},"legend":{"title":null,"labelExpr":"datum.value=='v'?'ψᵥₓ':datum.value=='E'?'ψᴇₓ':'|ψᵥₓ − ψᴇₓ|'","encode":{"symbols":{"update":{"strokeWidth":{"signal":"datum.value=='d'?4:1.6"}}}}}}}},
{"data":{"name":"traces"},"transform":[{"filter":"datum.p=='c2' && datum.s=='v'"}],"mark":{"type":"line","interpolate":"monotone","clip":true,"strokeWidth":1.3},"encoding":{"x":{"field":"t","type":"quantitative","axis":null},"y":{"field":"y","type":"quantitative","axis":null},"detail":{"field":"k"},"color":{"field":"s","type":"nominal","scale":{"domain":["v","E","d"],"range":["#ffa500","#ff0000","#000000"]},"legend":{"title":null,"labelExpr":"datum.value=='v'?'ψᵥₓ':datum.value=='E'?'ψᴇₓ':'|ψᵥₓ − ψᴇₓ|'","encode":{"symbols":{"update":{"strokeWidth":{"signal":"datum.value=='d'?4:1.6"}}}}}}}},
{"data":{"name":"bands"},"transform":[{"filter":"datum.p=='c2' && datum.s=='E'"}],"mark":{"type":"area","color":"#ff0000","interpolate":"monotone","clip":true},"encoding":{"x":{"field":"t","type":"quantitative","axis":{"orient":"top","values":[1,2,3,4],"labels":false,"title":null}},"y":{"field":"lo","type":"quantitative","axis":{"orient":"right","values":[-1.5,-1,-0.5,0,0.5,1,1.5],"labels":false,"title":null}},"y2":{"field":"hi"}}},
{"data":{"name":"bands"},"transform":[{"filter":"datum.p=='c2' && datum.s=='E'"},{"fold":["lo","hi"],"as":["edge","val"]}],"mark":{"type":"line","interpolate":"monotone","clip":true,"strokeWidth":1.3},"encoding":{"x":{"field":"t","type":"quantitative","axis":null},"y":{"field":"val","type":"quantitative","axis":null},"detail":{"field":"edge"},"color":{"field":"s","type":"nominal","scale":{"domain":["v","E","d"],"range":["#ffa500","#ff0000","#000000"]},"legend":{"title":null,"labelExpr":"datum.value=='v'?'ψᵥₓ':datum.value=='E'?'ψᴇₓ':'|ψᵥₓ − ψᴇₓ|'","encode":{"symbols":{"update":{"strokeWidth":{"signal":"datum.value=='d'?4:1.6"}}}}}}}},
{"data":{"name":"traces"},"transform":[{"filter":"datum.p=='c2' && datum.s=='E'"}],"mark":{"type":"line","interpolate":"monotone","clip":true,"strokeWidth":1.3},"encoding":{"x":{"field":"t","type":"quantitative","axis":null},"y":{"field":"y","type":"quantitative","axis":null},"detail":{"field":"k"},"color":{"field":"s","type":"nominal","scale":{"domain":["v","E","d"],"range":["#ffa500","#ff0000","#000000"]},"legend":{"title":null,"labelExpr":"datum.value=='v'?'ψᵥₓ':datum.value=='E'?'ψᴇₓ':'|ψᵥₓ − ψᴇₓ|'","encode":{"symbols":{"update":{"strokeWidth":{"signal":"datum.value=='d'?4:1.6"}}}}}}}},
{"data":{"name":"bands"},"transform":[{"filter":"datum.p=='c2' && datum.s=='d'"}],"mark":{"type":"area","color":"#000000","interpolate":"monotone","clip":true},"encoding":{"x":{"field":"t","type":"quantitative","axis":{"orient":"bottom","values":[0.8,1.2,1.4,1.6,1.8,2.2,2.4,2.6,2.8,3.2,3.4,3.6,3.8],"labels":false,"title":null,"domain":false,"tickSize":-4,"tickWidth":1.1}},"y":{"field":"lo","type":"quantitative","axis":{"orient":"left","values":[-1.4,-1.3,-1.2,-1.1,-0.9,-0.8,-0.7,-0.6,-0.4,-0.3,-0.2,-0.1,0.1,0.2,0.3,0.4,0.6,0.7,0.8,0.9,1.1,1.2,1.3,1.4],"labels":false,"title":null,"domain":false,"tickSize":-4,"tickWidth":1.1}},"y2":{"field":"hi"}}},
{"data":{"name":"bands"},"transform":[{"filter":"datum.p=='c2' && datum.s=='d'"},{"fold":["lo","hi"],"as":["edge","val"]}],"mark":{"type":"line","interpolate":"monotone","clip":true,"strokeWidth":3},"encoding":{"x":{"field":"t","type":"quantitative","axis":{"orient":"top","values":[0.8,1.2,1.4,1.6,1.8,2.2,2.4,2.6,2.8,3.2,3.4,3.6,3.8],"labels":false,"title":null,"domain":false,"tickSize":-4,"tickWidth":1.1}},"y":{"field":"val","type":"quantitative","axis":{"orient":"right","values":[-1.4,-1.3,-1.2,-1.1,-0.9,-0.8,-0.7,-0.6,-0.4,-0.3,-0.2,-0.1,0.1,0.2,0.3,0.4,0.6,0.7,0.8,0.9,1.1,1.2,1.3,1.4],"labels":false,"title":null,"domain":false,"tickSize":-4,"tickWidth":1.1}},"detail":{"field":"edge"},"color":{"field":"s","type":"nominal","scale":{"domain":["v","E","d"],"range":["#ffa500","#ff0000","#000000"]},"legend":{"title":null,"labelExpr":"datum.value=='v'?'ψᵥₓ':datum.value=='E'?'ψᴇₓ':'|ψᵥₓ − ψᴇₓ|'","encode":{"symbols":{"update":{"strokeWidth":{"signal":"datum.value=='d'?4:1.6"}}}}}}}},
{"data":{"name":"traces"},"transform":[{"filter":"datum.p=='c2' && datum.s=='d'"}],"mark":{"type":"line","interpolate":"monotone","clip":true,"strokeWidth":3},"encoding":{"x":{"field":"t","type":"quantitative","axis":null},"y":{"field":"y","type":"quantitative","axis":null},"detail":{"field":"k"},"color":{"field":"s","type":"nominal","scale":{"domain":["v","E","d"],"range":["#ffa500","#ff0000","#000000"]},"legend":{"title":null,"labelExpr":"datum.value=='v'?'ψᵥₓ':datum.value=='E'?'ψᴇₓ':'|ψᵥₓ − ψᴇₓ|'","encode":{"symbols":{"update":{"strokeWidth":{"signal":"datum.value=='d'?4:1.6"}}}}}}}},
{"data":{"name":"hl"},"mark":{"type":"rule","color":"black","strokeWidth":1.5,"strokeDash":[7,4]},"encoding":{"y":{"field":"y","type":"quantitative","axis":null}}},
{"data":{"name":"bands"},"transform":[{"filter":"datum.p=='c2'"}],"mark":{"type":"line","interpolate":"monotone","strokeWidth":3.8,"clip":true},"encoding":{"x":{"field":"t","type":"quantitative","axis":null},"y":{"field":"m","type":"quantitative","axis":null},"detail":{"field":"s"},"stroke":{"condition":[{"test":"datum.s=='d'","value":"#808080"},{"test":"datum.s=='E'","value":"#ff6010"}],"value":"#ffff00"}}},
{"data":{"name":"bands"},"transform":[{"filter":"datum.p=='c2'"}],"mark":{"type":"line","interpolate":"monotone","strokeWidth":1.3,"strokeDash":[4,3],"clip":true},"encoding":{"x":{"field":"t","type":"quantitative","axis":null},"y":{"field":"m","type":"quantitative","axis":null},"detail":{"field":"s"},"stroke":{"condition":{"test":"datum.s=='d'","value":"#ffffff"},"value":"#000000"}}}
]}
],
"config":{
"font":"DejaVu Sans",
"view":{"stroke":null},
"axis":{"grid":false,"domainColor":"black","domainWidth":1.2,"tickColor":"black","tickWidth":1.4,"tickSize":-8,"labelFont":"DejaVu Sans","labelFontSize":22.5,"labelColor":"black","labelPadding":15,"labelFlush":false,"labelOverlap":false,"titleFont":"DejaVu Sans","titleFontSize":22.5,"titleFontWeight":"normal","titleColor":"black","zindex":1},
"legend":{"orient":"bottom-right","offset":5,"fillColor":"rgba(255,255,255,0.85)","strokeColor":"#cccccc","cornerRadius":5,"padding":11,"symbolType":"stroke","symbolSize":420,"labelFontSize":22,"labelFont":"DejaVu Sans","labelFontStyle":"italic","labelColor":"black","labelOffset":13,"rowPadding":6,"labelLimit":400},
"title":{"font":"DejaVu Sans","fontSize":19.5,"fontWeight":"bold","anchor":"end","orient":"top","offset":-26,"dy":22,"baseline":"middle","dx":-21,"color":"black"}
}
}
